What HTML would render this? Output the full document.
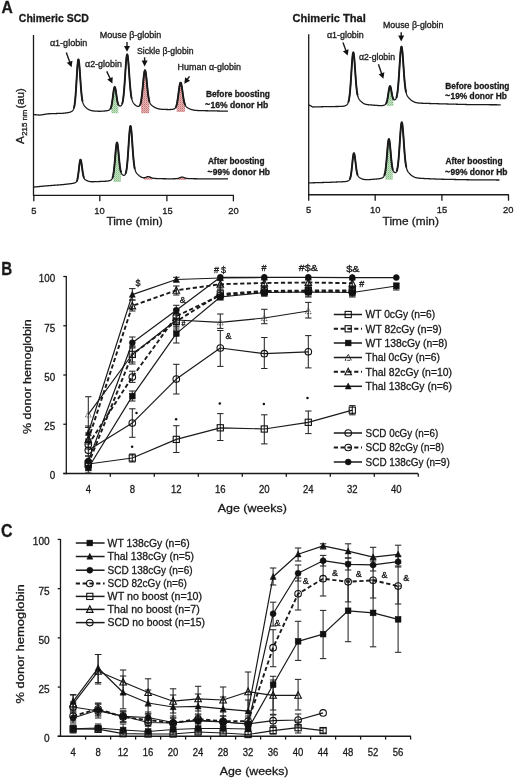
<!DOCTYPE html><html><head><meta charset="utf-8"><style>html,body{margin:0;padding:0;background:#fff;width:520px;height:780px;overflow:hidden}svg{display:block;will-change:transform}text{font-family:"Liberation Sans",sans-serif;fill:#1a1a1a;stroke:#1a1a1a;stroke-width:0.3px}</style></head><body><svg width="520" height="780" viewBox="0 0 520 780"><defs><pattern id="hg" width="2" height="2" patternUnits="userSpaceOnUse"><rect width="2" height="2" fill="#c8e2c8"/><rect width="1" height="1" fill="#7fba7f"/><rect x="1" y="1" width="1" height="1" fill="#a0cfa0"/></pattern><pattern id="hr" width="2" height="2" patternUnits="userSpaceOnUse"><rect width="2" height="2" fill="#e8b6b6"/><rect width="1" height="1" fill="#c27272"/><rect x="1" y="1" width="1" height="1" fill="#d69494"/></pattern></defs>
<text x="1.40" y="13.30" font-size="16.5" font-weight="bold" textLength="11.30" lengthAdjust="spacingAndGlyphs" >A</text>
<text x="18.80" y="22.40" font-size="10.9" font-weight="bold" textLength="70.00" lengthAdjust="spacingAndGlyphs" >Chimeric SCD</text>
<text x="292.50" y="22.40" font-size="10.9" font-weight="bold" textLength="73.30" lengthAdjust="spacingAndGlyphs" >Chimeric Thal</text>
<line x1="33.50" y1="35.00" x2="33.50" y2="195.90" stroke="#1a1a1a" stroke-width="1.3"/>
<line x1="33.00" y1="195.40" x2="233.90" y2="195.40" stroke="#1a1a1a" stroke-width="1.4"/>
<line x1="33.80" y1="195.40" x2="33.80" y2="201.30" stroke="#1a1a1a" stroke-width="1.3"/>
<line x1="99.80" y1="195.40" x2="99.80" y2="201.30" stroke="#1a1a1a" stroke-width="1.3"/>
<line x1="166.90" y1="195.40" x2="166.90" y2="201.30" stroke="#1a1a1a" stroke-width="1.3"/>
<line x1="233.40" y1="195.40" x2="233.40" y2="201.30" stroke="#1a1a1a" stroke-width="1.3"/>
<text x="33.90" y="213.60" font-size="9.4" text-anchor="middle" >5</text>
<text x="99.50" y="213.60" font-size="9.4" text-anchor="middle" >10</text>
<text x="167.40" y="213.60" font-size="9.4" text-anchor="middle" >15</text>
<text x="233.40" y="213.60" font-size="9.4" text-anchor="middle" >20</text>
<text x="106.40" y="225.10" font-size="11.2" textLength="56.30" lengthAdjust="spacingAndGlyphs" >Time (min)</text>
<line x1="308.70" y1="34.30" x2="308.70" y2="195.30" stroke="#1a1a1a" stroke-width="1.3"/>
<line x1="308.20" y1="194.80" x2="508.90" y2="194.80" stroke="#1a1a1a" stroke-width="1.4"/>
<line x1="308.70" y1="194.80" x2="308.70" y2="200.70" stroke="#1a1a1a" stroke-width="1.3"/>
<line x1="375.20" y1="194.80" x2="375.20" y2="200.70" stroke="#1a1a1a" stroke-width="1.3"/>
<line x1="441.90" y1="194.80" x2="441.90" y2="200.70" stroke="#1a1a1a" stroke-width="1.3"/>
<line x1="508.50" y1="194.80" x2="508.50" y2="200.70" stroke="#1a1a1a" stroke-width="1.3"/>
<text x="308.70" y="213.10" font-size="9.4" text-anchor="middle" >5</text>
<text x="375.20" y="213.10" font-size="9.4" text-anchor="middle" >10</text>
<text x="441.90" y="213.10" font-size="9.4" text-anchor="middle" >15</text>
<text x="508.30" y="213.10" font-size="9.4" text-anchor="middle" >20</text>
<text x="382.60" y="225.00" font-size="11.2" textLength="56.30" lengthAdjust="spacingAndGlyphs" >Time (min)</text>
<g transform="translate(24.2 144) rotate(-90)"><text x="0" y="0" font-size="11.8">A</text><text x="8.2" y="3.2" font-size="7.2" textLength="26.2" lengthAdjust="spacingAndGlyphs">215 nm</text><text x="35.5" y="0" font-size="11.5" textLength="20.4" lengthAdjust="spacingAndGlyphs">(au)</text></g>
<polygon points="111.13,106.94 111.38,106.01 111.63,104.89 111.88,103.58 112.13,102.06 112.38,100.37 112.63,98.53 112.88,96.59 113.13,94.62 113.38,92.71 113.63,90.94 113.88,89.40 114.13,88.18 114.38,87.35 114.63,86.96 114.88,87.03 115.13,87.56 115.38,88.50 115.63,89.79 115.88,91.35 116.13,93.07 116.38,94.86 116.63,96.63 116.88,98.31 117.13,99.84 117.38,101.19 117.63,102.35 117.88,103.30 118.13,104.06 118.38,104.66 118.24,113.28 111.43,113.28" fill="url(#hg)" stroke="none"/>
<polygon points="140.80,102.46 141.05,101.26 141.30,99.82 141.55,98.15 141.80,96.23 142.05,94.07 142.30,91.70 142.55,89.15 142.80,86.48 143.05,83.75 143.30,81.05 143.55,78.46 143.80,76.08 144.05,74.00 144.30,72.32 144.55,71.09 144.80,70.39 145.05,70.23 145.30,70.63 145.55,71.55 145.80,72.96 146.05,74.79 146.30,76.95 146.55,79.36 146.80,81.90 147.05,84.49 147.30,87.05 147.55,89.50 147.80,91.78 148.05,93.86 148.30,95.72 148.55,97.35 148.80,98.75 149.05,99.94 149.30,100.94 149.55,101.77 149.26,113.20 141.10,113.20" fill="url(#hr)" stroke="none"/>
<polygon points="176.40,105.56 176.65,104.68 176.90,103.64 177.15,102.43 177.40,101.05 177.65,99.51 177.90,97.82 178.15,96.01 178.40,94.11 178.65,92.18 178.90,90.27 179.15,88.44 179.40,86.76 179.65,85.29 179.90,84.10 180.15,83.24 180.40,82.74 180.65,82.63 180.90,82.92 181.15,83.57 181.40,84.57 181.65,85.86 181.90,87.39 182.15,89.09 182.40,90.89 182.65,92.72 182.90,94.53 183.15,96.26 183.40,97.88 183.65,99.35 183.90,100.67 184.15,101.83 184.40,102.82 184.65,103.67 184.90,104.38 185.15,104.98 184.86,112.02 176.70,112.02" fill="url(#hr)" stroke="none"/>
<polygon points="113.22,174.91 113.47,173.50 113.72,171.81 113.97,169.84 114.22,167.58 114.47,165.05 114.72,162.29 114.97,159.36 115.22,156.35 115.47,153.37 115.72,150.52 115.97,147.94 116.22,145.75 116.47,144.07 116.72,142.97 116.97,142.52 117.22,142.75 117.47,143.62 117.72,145.10 117.97,147.08 118.22,149.45 118.47,152.08 118.72,154.85 118.97,157.61 119.22,160.28 119.47,162.77 119.72,165.01 119.97,166.98 120.22,168.66 120.47,170.07 120.72,171.22 120.97,172.15 120.78,181.92 113.52,181.92" fill="url(#hg)" stroke="none"/>
<polygon points="143.90,177.78 144.15,177.76 144.40,177.74 144.65,177.69 144.90,177.64 145.15,177.57 145.40,177.49 145.65,177.40 145.90,177.30 146.15,177.19 146.40,177.08 146.65,176.98 146.90,176.88 147.15,176.80 147.40,176.72 147.65,176.67 147.90,176.63 148.15,176.61 148.40,176.62 148.65,176.65 148.90,176.69 149.15,176.76 149.40,176.84 149.65,176.93 149.90,177.04 150.15,177.15 150.40,177.27 150.65,177.39 150.90,177.50 151.15,177.62 151.40,177.72 151.65,177.82 151.90,177.92 152.15,178.00 152.40,178.07 152.65,178.14 152.40,179.86 144.20,179.86" fill="url(#hr)" stroke="none"/>
<polygon points="177.60,178.49 177.85,178.43 178.10,178.37 178.35,178.29 178.60,178.21 178.85,178.12 179.10,178.02 179.35,177.92 179.60,177.81 179.85,177.70 180.10,177.59 180.35,177.49 180.60,177.39 180.85,177.30 181.10,177.23 181.35,177.17 181.60,177.13 181.85,177.10 182.10,177.10 182.35,177.12 182.60,177.15 182.85,177.20 183.10,177.26 183.35,177.34 183.60,177.43 183.85,177.52 184.10,177.61 184.35,177.71 184.60,177.81 184.85,177.90 185.10,177.99 185.35,178.07 185.60,178.15 185.85,178.22 186.10,178.28 186.35,178.33 186.10,180.00 177.90,180.00" fill="url(#hr)" stroke="none"/>
<polyline points="33.50,114.60 33.75,114.62 34.00,114.64 34.25,114.66 34.50,114.68 34.75,114.70 35.00,114.72 35.25,114.73 35.50,114.75 35.75,114.77 36.00,114.79 36.25,114.81 36.50,114.83 36.75,114.85 37.00,114.87 37.25,114.89 37.50,114.91 37.75,114.93 38.00,114.95 38.25,114.97 38.50,114.98 38.75,115.00 39.00,115.02 39.25,115.04 39.50,115.06 39.75,115.08 40.00,115.10 40.25,115.06 40.50,115.02 40.75,114.98 41.00,114.94 41.25,114.90 41.50,114.86 41.75,114.82 42.00,114.77 42.25,114.73 42.50,114.69 42.75,114.65 43.00,114.61 43.25,114.57 43.50,114.53 43.75,114.49 44.00,114.45 44.25,114.41 44.50,114.37 44.75,114.33 45.00,114.29 45.25,114.25 45.50,114.21 45.75,114.17 46.00,114.12 46.25,114.08 46.50,114.04 46.75,114.00 47.00,113.96 47.25,113.92 47.50,113.88 47.75,113.84 48.00,113.80 48.25,113.79 48.50,113.78 48.75,113.77 49.00,113.77 49.25,113.76 49.50,113.75 49.75,113.74 50.00,113.73 50.25,113.72 50.50,113.72 50.75,113.71 51.00,113.70 51.25,113.69 51.50,113.68 51.75,113.67 52.00,113.67 52.25,113.66 52.50,113.65 52.75,113.64 53.00,113.63 53.25,113.62 53.50,113.62 53.75,113.61 54.00,113.60 54.25,113.59 54.50,113.58 54.75,113.57 55.00,113.57 55.25,113.56 55.50,113.55 55.75,113.54 56.00,113.53 56.25,113.52 56.50,113.52 56.75,113.51 57.00,113.50 57.25,113.49 57.50,113.48 57.75,113.47 58.00,113.47 58.25,113.46 58.50,113.45 58.75,113.44 59.00,113.43 59.25,113.42 59.50,113.42 59.75,113.41 60.00,113.40 60.25,113.39 60.50,113.38 60.75,113.37 61.00,113.37 61.25,113.36 61.50,113.35 61.75,113.34 62.00,113.33 62.25,113.32 62.50,113.32 62.75,113.31 63.00,113.30 63.25,113.27 63.50,113.24 63.75,113.21 64.00,113.18 64.25,113.15 64.50,113.11 64.75,113.08 65.00,113.05 65.25,113.02 65.50,112.99 65.75,112.96 66.00,112.92 66.25,112.89 66.50,112.86 66.75,112.82 67.00,112.79 67.25,112.75 67.50,112.71 67.75,112.67 68.00,112.63 68.25,112.58 68.50,112.53 68.75,112.48 69.00,112.42 69.25,112.36 69.50,112.30 69.75,112.23 70.00,112.15 70.25,112.06 70.50,111.97 70.75,111.87 71.00,111.76 71.25,111.63 71.50,111.49 71.75,111.33 72.00,111.16 72.25,110.97 72.50,110.74 72.75,110.47 73.00,110.14 73.25,109.72 73.50,109.20 73.75,108.53 74.00,107.69 74.25,106.62 74.50,105.28 74.75,103.62 75.00,101.59 75.25,99.16 75.50,96.30 75.75,93.03 76.00,89.38 76.25,85.41 76.50,81.22 76.75,76.96 77.00,72.78 77.25,68.88 77.50,65.45 77.75,62.65 78.00,60.65 78.25,59.56 78.50,59.44 78.75,60.20 79.00,61.79 79.25,64.12 79.50,67.04 79.75,70.41 80.00,74.06 80.25,77.83 80.50,81.55 80.75,85.12 81.00,88.43 81.25,91.41 81.50,94.03 81.75,96.29 82.00,98.20 82.25,99.78 82.50,101.08 82.75,102.14 83.00,103.00 83.25,103.71 83.50,104.30 83.75,104.79 84.00,105.22 84.25,105.59 84.50,105.93 84.75,106.25 85.00,106.54 85.25,106.82 85.50,107.09 85.75,107.34 86.00,107.59 86.25,107.82 86.50,108.04 86.75,108.26 87.00,108.46 87.25,108.65 87.50,108.83 87.75,109.00 88.00,109.16 88.25,109.31 88.50,109.45 88.75,109.58 89.00,109.70 89.25,109.81 89.50,109.91 89.75,110.00 90.00,110.09 90.25,110.19 90.50,110.28 90.75,110.36 91.00,110.44 91.25,110.51 91.50,110.58 91.75,110.64 92.00,110.69 92.25,110.74 92.50,110.79 92.75,110.83 93.00,110.87 93.25,110.91 93.50,110.94 93.75,110.97 94.00,110.99 94.25,111.02 94.50,111.04 94.75,111.06 95.00,111.08 95.25,111.10 95.50,111.11 95.75,111.13 96.00,111.14 96.25,111.16 96.50,111.17 96.75,111.18 97.00,111.19 97.25,111.20 97.50,111.21 97.75,111.22 98.00,111.23 98.25,111.24 98.50,111.25 98.75,111.26 99.00,111.27 99.25,111.27 99.50,111.28 99.75,111.29 100.00,111.30 100.25,111.28 100.50,111.27 100.75,111.25 101.00,111.24 101.25,111.22 101.50,111.21 101.75,111.19 102.00,111.18 102.25,111.16 102.50,111.15 102.75,111.13 103.00,111.11 103.25,111.10 103.50,111.08 103.75,111.06 104.00,111.04 104.25,111.02 104.50,111.00 104.75,110.98 105.00,110.96 105.25,110.94 105.50,110.91 105.75,110.88 106.00,110.85 106.25,110.82 106.50,110.78 106.75,110.74 107.00,110.70 107.25,110.65 107.50,110.60 107.75,110.54 108.00,110.48 108.25,110.40 108.50,110.32 108.75,110.23 109.00,110.11 109.25,109.98 109.50,109.81 109.75,109.60 110.00,109.34 110.25,109.01 110.50,108.58 110.75,108.03 111.00,107.36 111.25,106.52 111.50,105.50 111.75,104.29 112.00,102.88 112.25,101.27 112.50,99.50 112.75,97.61 113.00,95.64 113.25,93.69 113.50,91.83 113.75,90.16 114.00,88.77 114.25,87.73 114.50,87.11 114.75,86.94 115.00,87.23 115.25,87.96 115.50,89.08 115.75,90.51 116.00,92.16 116.25,93.93 116.50,95.72 116.75,97.45 117.00,99.07 117.25,100.52 117.50,101.77 117.75,102.83 118.00,103.69 118.25,104.37 118.50,104.90 118.75,105.29 119.00,105.58 119.25,105.79 119.50,105.92 119.75,106.00 120.00,106.03 120.25,106.02 120.50,105.97 120.75,105.88 121.00,105.72 121.25,105.50 121.50,105.18 121.75,104.76 122.00,104.21 122.25,103.49 122.50,102.57 122.75,101.42 123.00,100.01 123.25,98.30 123.50,96.26 123.75,93.89 124.00,91.17 124.25,88.12 124.50,84.76 124.75,81.16 125.00,77.38 125.25,73.52 125.50,69.69 125.75,66.03 126.00,62.66 126.25,59.73 126.50,57.34 126.75,55.60 127.00,54.60 127.25,54.37 127.50,54.93 127.75,56.23 128.00,58.22 128.25,60.80 128.50,63.85 128.75,67.24 129.00,70.83 129.25,74.49 129.50,78.09 129.75,81.54 130.00,84.76 130.25,87.70 130.50,90.31 130.75,92.60 131.00,94.57 131.25,96.24 131.50,97.64 131.75,98.81 132.00,99.77 132.25,100.56 132.50,101.23 132.75,101.79 133.00,102.26 133.25,102.68 133.50,103.04 133.75,103.37 134.00,103.68 134.25,103.96 134.50,104.22 134.75,104.47 135.00,104.71 135.25,104.94 135.50,105.15 135.75,105.36 136.00,105.55 136.25,105.72 136.50,105.88 136.75,106.03 137.00,106.15 137.25,106.26 137.50,106.35 137.75,106.41 138.00,106.45 138.25,106.47 138.50,106.44 138.75,106.38 139.00,106.26 139.25,106.08 139.50,105.82 139.75,105.47 140.00,105.00 140.25,104.39 140.50,103.63 140.75,102.67 141.00,101.52 141.25,100.13 141.50,98.50 141.75,96.63 142.00,94.52 142.25,92.19 142.50,89.67 142.75,87.02 143.00,84.30 143.25,81.58 143.50,78.96 143.75,76.53 144.00,74.39 144.25,72.62 144.50,71.30 144.75,70.48 145.00,70.22 145.25,70.50 145.50,71.33 145.75,72.64 146.00,74.40 146.25,76.50 146.50,78.86 146.75,81.39 147.00,83.98 147.25,86.54 147.50,89.02 147.75,91.34 148.00,93.47 148.25,95.37 148.50,97.04 148.75,98.49 149.00,99.72 149.25,100.75 149.50,101.61 149.75,102.33 150.00,102.93 150.25,103.42 150.50,103.84 150.75,104.20 151.00,104.51 151.25,104.79 151.50,105.05 151.75,105.28 152.00,105.50 152.25,105.71 152.50,105.91 152.75,106.10 153.00,106.29 153.25,106.47 153.50,106.64 153.75,106.80 154.00,106.96 154.25,107.11 154.50,107.26 154.75,107.40 155.00,107.53 155.25,107.66 155.50,107.79 155.75,107.91 156.00,108.02 156.25,108.12 156.50,108.22 156.75,108.32 157.00,108.41 157.25,108.49 157.50,108.56 157.75,108.64 158.00,108.70 158.25,108.76 158.50,108.82 158.75,108.88 159.00,108.93 159.25,108.97 159.50,109.01 159.75,109.05 160.00,109.09 160.25,109.12 160.50,109.15 160.75,109.18 161.00,109.21 161.25,109.23 161.50,109.26 161.75,109.28 162.00,109.30 162.25,109.31 162.50,109.33 162.75,109.35 163.00,109.36 163.25,109.37 163.50,109.39 163.75,109.40 164.00,109.41 164.25,109.42 164.50,109.43 164.75,109.44 165.00,109.45 165.25,109.46 165.50,109.47 165.75,109.47 166.00,109.48 166.25,109.49 166.50,109.49 166.75,109.50 167.00,109.51 167.25,109.51 167.50,109.52 167.75,109.52 168.00,109.53 168.25,109.53 168.50,109.53 168.75,109.53 169.00,109.53 169.25,109.53 169.50,109.53 169.75,109.52 170.00,109.52 170.25,109.51 170.50,109.51 170.75,109.50 171.00,109.49 171.25,109.47 171.50,109.45 171.75,109.43 172.00,109.41 172.25,109.38 172.50,109.34 172.75,109.30 173.00,109.25 173.25,109.19 173.50,109.13 173.75,109.05 174.00,108.95 174.25,108.83 174.50,108.69 174.75,108.51 175.00,108.28 175.25,108.00 175.50,107.65 175.75,107.21 176.00,106.67 176.25,106.02 176.50,105.22 176.75,104.28 177.00,103.17 177.25,101.90 177.50,100.45 177.75,98.85 178.00,97.11 178.25,95.26 178.50,93.34 178.75,91.41 179.00,89.52 179.25,87.75 179.50,86.14 179.75,84.78 180.00,83.72 180.25,83.00 180.50,82.65 180.75,82.70 181.00,83.13 181.25,83.93 181.50,85.05 181.75,86.45 182.00,88.05 182.25,89.80 182.50,91.62 182.75,93.45 183.00,95.23 183.25,96.92 183.50,98.49 183.75,99.90 184.00,101.15 184.25,102.24 184.50,103.18 184.75,103.97 185.00,104.63 185.25,105.18 185.50,105.64 185.75,106.03 186.00,106.36 186.25,106.63 186.50,106.88 186.75,107.09 187.00,107.29 187.25,107.47 187.50,107.64 187.75,107.80 188.00,107.95 188.25,108.10 188.50,108.24 188.75,108.38 189.00,108.51 189.25,108.64 189.50,108.76 189.75,108.88 190.00,108.99 190.25,109.10 190.50,109.20 190.75,109.29 191.00,109.38 191.25,109.47 191.50,109.55 191.75,109.63 192.00,109.70 192.25,109.77 192.50,109.83 192.75,109.89 193.00,109.95 193.25,110.00 193.50,110.05 193.75,110.10 194.00,110.14 194.25,110.18 194.50,110.21 194.75,110.25 195.00,110.28 195.25,110.31 195.50,110.34 195.75,110.36 196.00,110.38 196.25,110.41 196.50,110.42 196.75,110.44 197.00,110.46 197.25,110.48 197.50,110.49 197.75,110.50 198.00,110.52 198.25,110.53 198.50,110.54 198.75,110.55 199.00,110.56 199.25,110.57 199.50,110.58 199.75,110.59 200.00,110.59 200.25,110.60 200.50,110.61 200.75,110.62 201.00,110.62 201.25,110.63 201.50,110.64 201.75,110.64 202.00,110.65 202.25,110.65 202.50,110.66 202.75,110.67 203.00,110.67 203.25,110.68 203.50,110.68 203.75,110.69 204.00,110.69 204.25,110.70 204.50,110.70 204.75,110.71 205.00,110.72 205.25,110.72 205.50,110.73 205.75,110.73 206.00,110.74 206.25,110.74 206.50,110.75 206.75,110.75 207.00,110.76 207.25,110.76 207.50,110.77 207.75,110.77 208.00,110.78 208.25,110.78 208.50,110.79 208.75,110.79 209.00,110.80 209.25,110.81 209.50,110.81 209.75,110.82 210.00,110.82 210.25,110.83 210.50,110.83 210.75,110.84 211.00,110.84 211.25,110.85 211.50,110.85 211.75,110.86 212.00,110.86 212.25,110.87 212.50,110.87 212.75,110.88 213.00,110.88 213.25,110.89 213.50,110.89 213.75,110.90 214.00,110.91 214.25,110.91 214.50,110.92 214.75,110.92 215.00,110.93 215.25,110.93 215.50,110.94 215.75,110.94 216.00,110.95 216.25,110.95 216.50,110.96 216.75,110.96 217.00,110.97 217.25,110.97 217.50,110.98 217.75,110.98 218.00,110.99 218.25,110.99 218.50,111.00 218.75,111.01 219.00,111.01 219.25,111.02 219.50,111.02 219.75,111.03 220.00,111.03 220.25,111.04 220.50,111.04 220.75,111.05 221.00,111.05 221.25,111.06 221.50,111.06 221.75,111.07 222.00,111.07 222.25,111.08 222.50,111.08 222.75,111.09 223.00,111.09 223.25,111.10 223.50,111.11 223.75,111.11 224.00,111.12 224.25,111.12 224.50,111.13 224.75,111.13 225.00,111.14 225.25,111.14 225.50,111.15 225.75,111.15 226.00,111.16 226.25,111.16 226.50,111.17 226.75,111.17 227.00,111.18 227.25,111.18 227.50,111.19 227.75,111.19 228.00,111.20" fill="none" stroke="#1a1a1a" stroke-width="1.3" stroke-linejoin="round"/>
<polyline points="73.85,108.22 74.10,107.29 74.35,106.12 74.60,104.66 74.85,102.85 75.10,100.66 75.35,98.07 75.60,95.04 75.85,91.61 76.10,87.82 76.35,83.75 76.60,79.52 76.85,75.27 77.10,71.18 77.35,67.44 77.60,64.24 77.85,61.75 78.10,60.10 78.35,59.40 78.60,59.64 78.85,60.75 79.10,62.64 79.35,65.22 79.60,68.35 79.85,71.85 80.10,75.56 80.35,79.33 80.60,83.01 80.85,86.48 81.10,89.66 81.35,92.50 81.60,94.98 81.85,97.09 82.10,98.87 82.35,100.33 82.60,101.53" fill="none" stroke="#1a1a1a" stroke-width="1.9" stroke-linejoin="round"/>
<polyline points="110.28,108.96 110.53,108.52 110.78,107.96 111.03,107.26 111.28,106.41 111.53,105.37 111.78,104.13 112.03,102.69 112.28,101.07 112.53,99.28 112.78,97.37 113.03,95.41 113.28,93.46 113.53,91.62 113.78,89.98 114.03,88.62 114.28,87.63 114.53,87.06 114.78,86.95 115.03,87.30 115.28,88.08 115.53,89.24 115.78,90.70 116.03,92.37 116.28,94.14 116.53,95.93 116.78,97.66 117.03,99.25 117.28,100.68 117.53,101.91 117.78,102.94 118.03,103.78 118.28,104.44 118.53,104.95" fill="none" stroke="#1a1a1a" stroke-width="1.9" stroke-linejoin="round"/>
<polyline points="122.00,104.21 122.25,103.49 122.50,102.57 122.75,101.42 123.00,100.01 123.25,98.30 123.50,96.26 123.75,93.89 124.00,91.17 124.25,88.12 124.50,84.76 124.75,81.16 125.00,77.38 125.25,73.52 125.50,69.69 125.75,66.03 126.00,62.66 126.25,59.73 126.50,57.34 126.75,55.60 127.00,54.60 127.25,54.37 127.50,54.93 127.75,56.23 128.00,58.22 128.25,60.80 128.50,63.85 128.75,67.24 129.00,70.83 129.25,74.49 129.50,78.09 129.75,81.54 130.00,84.76 130.25,87.70 130.50,90.31 130.75,92.60 131.00,94.57 131.25,96.24 131.50,97.64 131.75,98.81" fill="none" stroke="#1a1a1a" stroke-width="1.9" stroke-linejoin="round"/>
<polyline points="139.80,105.38 140.05,104.89 140.30,104.25 140.55,103.45 140.80,102.46 141.05,101.26 141.30,99.82 141.55,98.15 141.80,96.23 142.05,94.07 142.30,91.70 142.55,89.15 142.80,86.48 143.05,83.75 143.30,81.05 143.55,78.46 143.80,76.08 144.05,74.00 144.30,72.32 144.55,71.09 144.80,70.39 145.05,70.23 145.30,70.63 145.55,71.55 145.80,72.96 146.05,74.79 146.30,76.95 146.55,79.36 146.80,81.90 147.05,84.49 147.30,87.05 147.55,89.50 147.80,91.78 148.05,93.86 148.30,95.72 148.55,97.35 148.80,98.75 149.05,99.94 149.30,100.94 149.55,101.77" fill="none" stroke="#1a1a1a" stroke-width="1.9" stroke-linejoin="round"/>
<polyline points="175.40,107.80 175.65,107.40 175.90,106.90 176.15,106.30 176.40,105.56 176.65,104.68 176.90,103.64 177.15,102.43 177.40,101.05 177.65,99.51 177.90,97.82 178.15,96.01 178.40,94.11 178.65,92.18 178.90,90.27 179.15,88.44 179.40,86.76 179.65,85.29 179.90,84.10 180.15,83.24 180.40,82.74 180.65,82.63 180.90,82.92 181.15,83.57 181.40,84.57 181.65,85.86 181.90,87.39 182.15,89.09 182.40,90.89 182.65,92.72 182.90,94.53 183.15,96.26 183.40,97.88 183.65,99.35 183.90,100.67 184.15,101.83 184.40,102.82 184.65,103.67 184.90,104.38 185.15,104.98" fill="none" stroke="#1a1a1a" stroke-width="1.9" stroke-linejoin="round"/>
<polyline points="33.50,187.10 33.75,187.08 34.00,187.05 34.25,187.03 34.50,187.00 34.75,186.98 35.00,186.96 35.25,186.93 35.50,186.91 35.75,186.88 36.00,186.86 36.25,186.84 36.50,186.81 36.75,186.79 37.00,186.76 37.25,186.74 37.50,186.72 37.75,186.69 38.00,186.67 38.25,186.64 38.50,186.62 38.75,186.60 39.00,186.57 39.25,186.55 39.50,186.52 39.75,186.50 40.00,186.48 40.25,186.45 40.50,186.43 40.75,186.40 41.00,186.38 41.25,186.36 41.50,186.33 41.75,186.31 42.00,186.28 42.25,186.26 42.50,186.24 42.75,186.21 43.00,186.19 43.25,186.16 43.50,186.14 43.75,186.12 44.00,186.09 44.25,186.07 44.50,186.04 44.75,186.02 45.00,186.00 45.25,185.97 45.50,185.95 45.75,185.92 46.00,185.90 46.25,185.88 46.50,185.86 46.75,185.84 47.00,185.82 47.25,185.80 47.50,185.79 47.75,185.77 48.00,185.75 48.25,185.73 48.50,185.71 48.75,185.69 49.00,185.67 49.25,185.65 49.50,185.63 49.75,185.61 50.00,185.59 50.25,185.57 50.50,185.56 50.75,185.54 51.00,185.52 51.25,185.50 51.50,185.48 51.75,185.46 52.00,185.44 52.25,185.42 52.50,185.40 52.75,185.38 53.00,185.36 53.25,185.35 53.50,185.33 53.75,185.31 54.00,185.29 54.25,185.27 54.50,185.25 54.75,185.23 55.00,185.21 55.25,185.19 55.50,185.17 55.75,185.15 56.00,185.14 56.25,185.12 56.50,185.10 56.75,185.08 57.00,185.06 57.25,185.04 57.50,185.02 57.75,185.00 58.00,184.98 58.25,184.96 58.50,184.94 58.75,184.92 59.00,184.91 59.25,184.89 59.50,184.87 59.75,184.85 60.00,184.83 60.25,184.81 60.50,184.79 60.75,184.77 61.00,184.75 61.25,184.73 61.50,184.71 61.75,184.70 62.00,184.68 62.25,184.66 62.50,184.64 62.75,184.62 63.00,184.60 63.25,184.57 63.50,184.54 63.75,184.51 64.00,184.48 64.25,184.45 64.50,184.42 64.75,184.39 65.00,184.36 65.25,184.33 65.50,184.30 65.75,184.27 66.00,184.25 66.25,184.22 66.50,184.19 66.75,184.16 67.00,184.13 67.25,184.10 67.50,184.07 67.75,184.04 68.00,184.01 68.25,183.98 68.50,183.95 68.75,183.92 69.00,183.89 69.25,183.86 69.50,183.83 69.75,183.80 70.00,183.77 70.25,183.74 70.50,183.70 70.75,183.67 71.00,183.64 71.25,183.60 71.50,183.57 71.75,183.53 72.00,183.49 72.25,183.45 72.50,183.41 72.75,183.37 73.00,183.32 73.25,183.26 73.50,183.21 73.75,183.14 74.00,183.08 74.25,183.01 74.50,182.94 74.75,182.86 75.00,182.77 75.25,182.66 75.50,182.53 75.75,182.37 76.00,182.16 76.25,181.90 76.50,181.56 76.75,181.11 77.00,180.52 77.25,179.77 77.50,178.80 77.75,177.60 78.00,176.15 78.25,174.45 78.50,172.52 78.75,170.41 79.00,168.21 79.25,166.02 79.50,163.97 79.75,162.19 80.00,160.80 80.25,159.92 80.50,159.60 80.75,159.85 81.00,160.60 81.25,161.79 81.50,163.34 81.75,165.13 82.00,167.04 82.25,168.97 82.50,170.82 82.75,172.51 83.00,174.01 83.25,175.29 83.50,176.35 83.75,177.21 84.00,177.89 84.25,178.42 84.50,178.84 84.75,179.18 85.00,179.44 85.25,179.66 85.50,179.85 85.75,180.01 86.00,180.16 86.25,180.30 86.50,180.43 86.75,180.56 87.00,180.67 87.25,180.78 87.50,180.89 87.75,180.98 88.00,181.08 88.25,181.16 88.50,181.24 88.75,181.31 89.00,181.38 89.25,181.44 89.50,181.49 89.75,181.54 90.00,181.58 90.25,181.62 90.50,181.65 90.75,181.68 91.00,181.70 91.25,181.72 91.50,181.73 91.75,181.74 92.00,181.75 92.25,181.76 92.50,181.76 92.75,181.76 93.00,181.75 93.25,181.75 93.50,181.74 93.75,181.73 94.00,181.72 94.25,181.71 94.50,181.70 94.75,181.69 95.00,181.67 95.25,181.67 95.50,181.66 95.75,181.65 96.00,181.65 96.25,181.64 96.50,181.63 96.75,181.62 97.00,181.61 97.25,181.60 97.50,181.59 97.75,181.58 98.00,181.57 98.25,181.56 98.50,181.55 98.75,181.54 99.00,181.53 99.25,181.52 99.50,181.51 99.75,181.50 100.00,181.49 100.25,181.48 100.50,181.47 100.75,181.46 101.00,181.45 101.25,181.44 101.50,181.43 101.75,181.42 102.00,181.41 102.25,181.40 102.50,181.39 102.75,181.38 103.00,181.37 103.25,181.36 103.50,181.35 103.75,181.34 104.00,181.32 104.25,181.31 104.50,181.30 104.75,181.29 105.00,181.27 105.25,181.26 105.50,181.24 105.75,181.23 106.00,181.21 106.25,181.19 106.50,181.17 106.75,181.15 107.00,181.13 107.25,181.10 107.50,181.07 107.75,181.04 108.00,181.00 108.25,180.96 108.50,180.91 108.75,180.86 109.00,180.80 109.25,180.74 109.50,180.66 109.75,180.58 110.00,180.49 110.25,180.39 110.50,180.27 110.75,180.13 111.00,179.96 111.25,179.76 111.50,179.52 111.75,179.22 112.00,178.84 112.25,178.34 112.50,177.71 112.75,176.92 113.00,175.95 113.25,174.76 113.50,173.31 113.75,171.59 114.00,169.59 114.25,167.29 114.50,164.73 114.75,161.95 115.00,159.01 115.25,155.99 115.50,153.02 115.75,150.19 116.00,147.66 116.25,145.52 116.50,143.90 116.75,142.88 117.00,142.51 117.25,142.82 117.50,143.77 117.75,145.31 118.00,147.35 118.25,149.76 118.50,152.41 118.75,155.18 119.00,157.94 119.25,160.59 119.50,163.05 119.75,165.26 120.00,167.19 120.25,168.85 120.50,170.22 120.75,171.35 121.00,172.25 121.25,172.97 121.50,173.53 121.75,173.98 122.00,174.32 122.25,174.59 122.50,174.80 122.75,174.97 123.00,175.10 123.25,175.20 123.50,175.26 123.75,175.29 124.00,175.29 124.25,175.24 124.50,175.14 124.75,174.96 125.00,174.70 125.25,174.35 125.50,173.85 125.75,173.19 126.00,172.33 126.25,171.22 126.50,169.83 126.75,168.12 127.00,166.06 127.25,163.64 127.50,160.84 127.75,157.70 128.00,154.24 128.25,150.53 128.50,146.67 128.75,142.76 129.00,138.95 129.25,135.38 129.50,132.20 129.75,129.56 130.00,127.57 130.25,126.35 130.50,125.94 130.75,126.37 131.00,127.61 131.25,129.60 131.50,132.22 131.75,135.34 132.00,138.82 132.25,142.49 132.50,146.21 132.75,149.84 133.00,153.28 133.25,156.45 133.50,159.29 133.75,161.79 134.00,163.94 134.25,165.75 134.50,167.26 134.75,168.51 135.00,169.53 135.25,170.37 135.50,171.06 135.75,171.63 136.00,172.12 136.25,172.54 136.50,172.92 136.75,173.26 137.00,173.57 137.25,173.86 137.50,174.14 137.75,174.40 138.00,174.66 138.25,174.90 138.50,175.13 138.75,175.35 139.00,175.57 139.25,175.77 139.50,175.96 139.75,176.14 140.00,176.31 140.25,176.48 140.50,176.65 140.75,176.80 141.00,176.95 141.25,177.08 141.50,177.20 141.75,177.31 142.00,177.41 142.25,177.50 142.50,177.58 142.75,177.65 143.00,177.70 143.25,177.74 143.50,177.76 143.75,177.78 144.00,177.77 144.25,177.75 144.50,177.72 144.75,177.67 145.00,177.61 145.25,177.54 145.50,177.45 145.75,177.36 146.00,177.25 146.25,177.15 146.50,177.04 146.75,176.94 147.00,176.85 147.25,176.76 147.50,176.70 147.75,176.65 148.00,176.62 148.25,176.61 148.50,176.63 148.75,176.66 149.00,176.72 149.25,176.79 149.50,176.87 149.75,176.97 150.00,177.08 150.25,177.20 150.50,177.32 150.75,177.43 151.00,177.55 151.25,177.66 151.50,177.77 151.75,177.86 152.00,177.95 152.25,178.03 152.50,178.10 152.75,178.16 153.00,178.22 153.25,178.26 153.50,178.30 153.75,178.34 154.00,178.37 154.25,178.39 154.50,178.42 154.75,178.44 155.00,178.45 155.25,178.47 155.50,178.48 155.75,178.50 156.00,178.51 156.25,178.52 156.50,178.53 156.75,178.54 157.00,178.55 157.25,178.56 157.50,178.57 157.75,178.58 158.00,178.59 158.25,178.60 158.50,178.61 158.75,178.62 159.00,178.63 159.25,178.64 159.50,178.64 159.75,178.65 160.00,178.66 160.25,178.67 160.50,178.67 160.75,178.68 161.00,178.69 161.25,178.69 161.50,178.70 161.75,178.71 162.00,178.71 162.25,178.72 162.50,178.72 162.75,178.73 163.00,178.73 163.25,178.74 163.50,178.74 163.75,178.74 164.00,178.75 164.25,178.75 164.50,178.76 164.75,178.76 165.00,178.76 165.25,178.77 165.50,178.77 165.75,178.77 166.00,178.77 166.25,178.78 166.50,178.78 166.75,178.78 167.00,178.79 167.25,178.79 167.50,178.79 167.75,178.79 168.00,178.79 168.25,178.79 168.50,178.79 168.75,178.79 169.00,178.79 169.25,178.79 169.50,178.79 169.75,178.79 170.00,178.79 170.25,178.79 170.50,178.79 170.75,178.79 171.00,178.79 171.25,178.79 171.50,178.79 171.75,178.79 172.00,178.79 172.25,178.78 172.50,178.78 172.75,178.78 173.00,178.78 173.25,178.78 173.50,178.77 173.75,178.77 174.00,178.77 174.25,178.76 174.50,178.76 174.75,178.75 175.00,178.74 175.25,178.73 175.50,178.72 175.75,178.71 176.00,178.70 176.25,178.68 176.50,178.65 176.75,178.63 177.00,178.60 177.25,178.56 177.50,178.51 177.75,178.46 178.00,178.39 178.25,178.32 178.50,178.24 178.75,178.16 179.00,178.06 179.25,177.96 179.50,177.85 179.75,177.74 180.00,177.63 180.25,177.53 180.50,177.43 180.75,177.33 181.00,177.25 181.25,177.19 181.50,177.14 181.75,177.11 182.00,177.10 182.25,177.11 182.50,177.14 182.75,177.18 183.00,177.24 183.25,177.31 183.50,177.39 183.75,177.48 184.00,177.58 184.25,177.67 184.50,177.77 184.75,177.87 185.00,177.96 185.25,178.04 185.50,178.12 185.75,178.19 186.00,178.26 186.25,178.31 186.50,178.36 186.75,178.41 187.00,178.44 187.25,178.47 187.50,178.50 187.75,178.52 188.00,178.54 188.25,178.56 188.50,178.57 188.75,178.59 189.00,178.60 189.25,178.61 189.50,178.62 189.75,178.63 190.00,178.64 190.25,178.64 190.50,178.65 190.75,178.66 191.00,178.67 191.25,178.67 191.50,178.68 191.75,178.69 192.00,178.69 192.25,178.70 192.50,178.70 192.75,178.71 193.00,178.72 193.25,178.72 193.50,178.73 193.75,178.73 194.00,178.73 194.25,178.74 194.50,178.74 194.75,178.75 195.00,178.75 195.25,178.75 195.50,178.76 195.75,178.76 196.00,178.76 196.25,178.77 196.50,178.77 196.75,178.77 197.00,178.77 197.25,178.78 197.50,178.78 197.75,178.78 198.00,178.78 198.25,178.78 198.50,178.79 198.75,178.79 199.00,178.79 199.25,178.79 199.50,178.79 199.75,178.79 200.00,178.79 200.25,178.79 200.50,178.79 200.75,178.79 201.00,178.79 201.25,178.80 201.50,178.80 201.75,178.80 202.00,178.80 202.25,178.80 202.50,178.80 202.75,178.80 203.00,178.80 203.25,178.80 203.50,178.80 203.75,178.80 204.00,178.80 204.25,178.80 204.50,178.80 204.75,178.80 205.00,178.80 205.25,178.80 205.50,178.80 205.75,178.80 206.00,178.80 206.25,178.80 206.50,178.80 206.75,178.80 207.00,178.80 207.25,178.80 207.50,178.80 207.75,178.80 208.00,178.80 208.25,178.80 208.50,178.80 208.75,178.80 209.00,178.80 209.25,178.80 209.50,178.80 209.75,178.80 210.00,178.80 210.25,178.80 210.50,178.80 210.75,178.80 211.00,178.80 211.25,178.80 211.50,178.80 211.75,178.80 212.00,178.80 212.25,178.80 212.50,178.80 212.75,178.80 213.00,178.80 213.25,178.80 213.50,178.80 213.75,178.80 214.00,178.80 214.25,178.80 214.50,178.80 214.75,178.80 215.00,178.80 215.25,178.80 215.50,178.80 215.75,178.80 216.00,178.80 216.25,178.80 216.50,178.80 216.75,178.80 217.00,178.80 217.25,178.80 217.50,178.80 217.75,178.80 218.00,178.80 218.25,178.80 218.50,178.80 218.75,178.80 219.00,178.80 219.25,178.80 219.50,178.80 219.75,178.80 220.00,178.80 220.25,178.80 220.50,178.80 220.75,178.80 221.00,178.80 221.25,178.80 221.50,178.80 221.75,178.80 222.00,178.80 222.25,178.80 222.50,178.80 222.75,178.80 223.00,178.80 223.25,178.80 223.50,178.80 223.75,178.80 224.00,178.80 224.25,178.80 224.50,178.80 224.75,178.80 225.00,178.80 225.25,178.80 225.50,178.80 225.75,178.80 226.00,178.80 226.25,178.80 226.50,178.80 226.75,178.80 227.00,178.80 227.25,178.80 227.50,178.80 227.75,178.80 228.00,178.80" fill="none" stroke="#1a1a1a" stroke-width="1.3" stroke-linejoin="round"/>
<polyline points="76.60,181.39 76.85,180.89 77.10,180.24 77.35,179.41 77.60,178.35 77.85,177.05 78.10,175.50 78.35,173.70 78.60,171.69 78.85,169.53 79.10,167.32 79.35,165.17 79.60,163.21 79.85,161.58 80.10,160.39 80.35,159.72 80.60,159.64 80.85,160.09 81.10,161.03 81.35,162.38 81.60,164.03 81.85,165.89 82.10,167.82 82.35,169.72 82.60,171.52 82.85,173.14 83.10,174.55 83.35,175.74 83.60,176.72 83.85,177.50 84.10,178.12" fill="none" stroke="#1a1a1a" stroke-width="1.9" stroke-linejoin="round"/>
<polyline points="112.32,178.17 112.57,177.51 112.82,176.67 113.07,175.64 113.32,174.38 113.57,172.86 113.82,171.06 114.07,168.97 114.32,166.60 114.57,163.97 114.82,161.14 115.07,158.16 115.32,155.15 115.57,152.20 115.82,149.45 116.07,147.01 116.32,145.01 116.57,143.55 116.82,142.71 117.07,142.53 117.32,143.02 117.57,144.15 117.82,145.84 118.07,147.99 118.32,150.48 118.57,153.18 118.82,155.96 119.07,158.70 119.32,161.30 119.57,163.70 119.82,165.83 120.07,167.69 120.32,169.26 120.57,170.56 120.82,171.62 121.07,172.47" fill="none" stroke="#1a1a1a" stroke-width="1.9" stroke-linejoin="round"/>
<polyline points="125.56,173.71 125.81,173.01 126.06,172.08 126.31,170.91 126.56,169.45 126.81,167.66 127.06,165.51 127.31,163.00 127.56,160.12 127.81,156.90 128.06,153.37 128.31,149.62 128.56,145.73 128.81,141.84 129.06,138.07 129.31,134.58 129.56,131.52 129.81,129.02 130.06,127.21 130.31,126.17 130.56,125.97 130.81,126.60 131.06,128.03 131.31,130.17 131.56,132.93 131.81,136.15 132.06,139.69 132.31,143.38 132.56,147.09 132.81,150.69 133.06,154.07 133.31,157.16 133.56,159.92 133.81,162.34 134.06,164.40 134.31,166.14 134.56,167.58 134.81,168.77" fill="none" stroke="#1a1a1a" stroke-width="1.9" stroke-linejoin="round"/>
<polygon points="386.64,102.20 386.89,101.39 387.14,100.41 387.39,99.26 387.64,97.93 387.89,96.45 388.14,94.85 388.39,93.18 388.64,91.52 388.89,89.94 389.14,88.54 389.39,87.39 389.64,86.57 389.89,86.12 390.14,86.08 390.39,86.45 390.64,87.19 390.89,88.24 391.14,89.52 391.39,90.93 391.64,92.39 391.89,93.80 392.14,95.11 392.39,96.28 392.64,97.26 392.89,98.07 393.14,98.70 393.39,99.17 393.30,105.94 386.94,105.94" fill="url(#hg)" stroke="none"/>
<polygon points="385.12,172.31 385.37,170.86 385.62,169.14 385.87,167.11 386.12,164.79 386.37,162.19 386.62,159.36 386.87,156.35 387.12,153.25 387.37,150.18 387.62,147.25 387.87,144.60 388.12,142.35 388.37,140.63 388.62,139.51 388.87,139.06 389.12,139.30 389.37,140.22 389.62,141.76 389.87,143.82 390.12,146.29 390.37,149.02 390.62,151.89 390.87,154.76 391.12,157.52 391.37,160.10 391.62,162.42 391.87,164.46 392.12,166.20 392.37,167.65 392.62,168.84 392.87,169.80 392.68,179.78 385.42,179.78" fill="url(#hg)" stroke="none"/>
<polyline points="308.70,104.80 308.95,104.94 309.20,105.08 309.45,105.21 309.70,105.35 309.95,105.49 310.20,105.62 310.45,105.76 310.70,105.90 310.95,106.04 311.20,106.17 311.45,106.31 311.70,106.45 311.95,106.59 312.20,106.72 312.45,106.86 312.70,107.00 312.95,106.99 313.20,106.99 313.45,106.98 313.70,106.97 313.95,106.97 314.20,106.96 314.45,106.95 314.70,106.95 314.95,106.94 315.20,106.93 315.45,106.93 315.70,106.92 315.95,106.91 316.20,106.91 316.45,106.90 316.70,106.89 316.95,106.89 317.20,106.88 317.45,106.87 317.70,106.87 317.95,106.86 318.20,106.85 318.45,106.85 318.70,106.84 318.95,106.83 319.20,106.83 319.45,106.82 319.70,106.81 319.95,106.81 320.20,106.80 320.45,106.79 320.70,106.79 320.95,106.78 321.20,106.77 321.45,106.77 321.70,106.76 321.95,106.75 322.20,106.75 322.45,106.74 322.70,106.73 322.95,106.73 323.20,106.72 323.45,106.71 323.70,106.71 323.95,106.70 324.20,106.70 324.45,106.69 324.70,106.69 324.95,106.69 325.20,106.68 325.45,106.68 325.70,106.67 325.95,106.67 326.20,106.67 326.45,106.66 326.70,106.66 326.95,106.65 327.20,106.65 327.45,106.65 327.70,106.64 327.95,106.64 328.20,106.64 328.45,106.63 328.70,106.63 328.95,106.62 329.20,106.62 329.45,106.62 329.70,106.61 329.95,106.61 330.20,106.60 330.45,106.60 330.70,106.60 330.95,106.59 331.20,106.59 331.45,106.59 331.70,106.58 331.95,106.58 332.20,106.57 332.45,106.57 332.70,106.57 332.95,106.56 333.20,106.56 333.45,106.55 333.70,106.55 333.95,106.55 334.20,106.54 334.45,106.54 334.70,106.54 334.95,106.53 335.20,106.53 335.45,106.52 335.70,106.52 335.95,106.52 336.20,106.51 336.45,106.51 336.70,106.50 336.95,106.50 337.20,106.50 337.45,106.49 337.70,106.49 337.95,106.48 338.20,106.48 338.45,106.48 338.70,106.47 338.95,106.47 339.20,106.46 339.45,106.46 339.70,106.45 339.95,106.44 340.20,106.44 340.45,106.43 340.70,106.42 340.95,106.41 341.20,106.40 341.45,106.39 341.70,106.38 341.95,106.36 342.20,106.35 342.45,106.33 342.70,106.30 342.95,106.28 343.20,106.25 343.45,106.22 343.70,106.17 343.95,106.11 344.20,106.05 344.45,105.98 344.70,105.91 344.95,105.83 345.20,105.73 345.45,105.63 345.70,105.52 345.95,105.39 346.20,105.25 346.45,105.08 346.70,104.90 346.95,104.67 347.20,104.41 347.45,104.09 347.70,103.70 347.95,103.22 348.20,102.62 348.45,101.87 348.70,100.93 348.95,99.78 349.20,98.36 349.45,96.65 349.70,94.60 349.95,92.20 350.20,89.44 350.45,86.32 350.70,82.86 350.95,79.14 351.20,75.22 351.45,71.22 351.70,67.27 351.95,63.50 352.20,60.07 352.45,57.13 352.70,54.81 352.95,53.22 353.20,52.44 353.45,52.51 353.70,53.41 353.95,55.10 354.20,57.47 354.45,60.42 354.70,63.78 354.95,67.40 355.20,71.13 355.45,74.83 355.70,78.37 355.95,81.67 356.20,84.66 356.45,87.31 356.70,89.61 356.95,91.56 357.20,93.20 357.45,94.55 357.70,95.66 357.95,96.57 358.20,97.32 358.45,97.94 358.70,98.46 358.95,98.91 359.20,99.30 359.45,99.66 359.70,99.98 359.95,100.28 360.20,100.57 360.45,100.84 360.70,101.10 360.95,101.35 361.20,101.59 361.45,101.81 361.70,102.03 361.95,102.24 362.20,102.45 362.45,102.64 362.70,102.83 362.95,103.00 363.20,103.17 363.45,103.32 363.70,103.46 363.95,103.60 364.20,103.72 364.45,103.84 364.70,103.95 364.95,104.05 365.20,104.14 365.45,104.22 365.70,104.30 365.95,104.36 366.20,104.43 366.45,104.48 366.70,104.53 366.95,104.58 367.20,104.62 367.45,104.65 367.70,104.68 367.95,104.71 368.20,104.73 368.45,104.75 368.70,104.77 368.95,104.78 369.20,104.79 369.45,104.80 369.70,104.81 369.95,104.81 370.20,104.84 370.45,104.86 370.70,104.89 370.95,104.92 371.20,104.95 371.45,104.97 371.70,105.00 371.95,105.02 372.20,105.04 372.45,105.06 372.70,105.09 372.95,105.11 373.20,105.13 373.45,105.15 373.70,105.17 373.95,105.19 374.20,105.21 374.45,105.23 374.70,105.25 374.95,105.27 375.20,105.29 375.45,105.31 375.70,105.33 375.95,105.34 376.20,105.36 376.45,105.38 376.70,105.40 376.95,105.42 377.20,105.44 377.45,105.46 377.70,105.48 377.95,105.49 378.20,105.51 378.45,105.53 378.70,105.55 378.95,105.57 379.20,105.58 379.45,105.60 379.70,105.62 379.95,105.63 380.20,105.65 380.45,105.66 380.70,105.68 380.95,105.69 381.20,105.70 381.45,105.71 381.70,105.71 381.95,105.72 382.20,105.68 382.45,105.62 382.70,105.56 382.95,105.49 383.20,105.43 383.45,105.35 383.70,105.27 383.95,105.19 384.20,105.09 384.45,104.98 384.70,104.86 384.95,104.72 385.20,104.54 385.45,104.33 385.70,104.06 385.95,103.71 386.20,103.27 386.45,102.72 386.70,102.02 386.95,101.17 387.20,100.15 387.45,98.96 387.70,97.59 387.95,96.07 388.20,94.45 388.45,92.78 388.70,91.13 388.95,89.59 389.20,88.24 389.45,87.16 389.70,86.42 389.95,86.07 390.20,86.14 390.45,86.60 390.70,87.42 390.95,88.53 391.20,89.85 391.45,91.28 391.70,92.73 391.95,94.13 392.20,95.41 392.45,96.53 392.70,97.47 392.95,98.24 393.20,98.83 393.45,99.26 393.70,99.57 393.95,99.76 394.20,99.86 394.45,99.88 394.70,99.84 394.95,99.73 395.20,99.59 395.45,99.38 395.70,99.08 395.95,98.69 396.20,98.16 396.45,97.48 396.70,96.61 396.95,95.52 397.20,94.17 397.45,92.53 397.70,90.57 397.95,88.27 398.20,85.61 398.45,82.60 398.70,79.27 398.95,75.65 399.20,71.83 399.45,67.88 399.70,63.91 399.95,60.07 400.20,56.47 400.45,53.25 400.70,50.56 400.95,48.49 401.20,47.15 401.45,46.59 401.70,46.84 401.95,47.87 402.20,49.64 402.45,52.06 402.70,55.02 402.95,58.37 403.20,61.99 403.45,65.74 403.70,69.47 403.95,73.09 404.20,76.50 404.45,79.64 404.70,82.46 404.95,84.95 405.20,87.10 405.45,88.94 405.70,90.48 405.95,91.77 406.20,92.84 406.45,93.73 406.70,94.46 406.95,95.08 407.20,95.61 407.45,96.06 407.70,96.47 407.95,96.83 408.20,97.17 408.45,97.48 408.70,97.78 408.95,98.06 409.20,98.33 409.45,98.59 409.70,98.84 409.95,99.08 410.20,99.31 410.45,99.53 410.70,99.74 410.95,99.94 411.20,100.15 411.45,100.36 411.70,100.55 411.95,100.74 412.20,100.91 412.45,101.08 412.70,101.24 412.95,101.38 413.20,101.52 413.45,101.65 413.70,101.78 413.95,101.89 414.20,102.00 414.45,102.10 414.70,102.19 414.95,102.28 415.20,102.36 415.45,102.43 415.70,102.50 415.95,102.57 416.20,102.62 416.45,102.68 416.70,102.73 416.95,102.78 417.20,102.82 417.45,102.86 417.70,102.90 417.95,102.93 418.20,102.97 418.45,103.00 418.70,103.02 418.95,103.05 419.20,103.07 419.45,103.10 419.70,103.12 419.95,103.14 420.20,103.15 420.45,103.17 420.70,103.18 420.95,103.20 421.20,103.21 421.45,103.22 421.70,103.23 421.95,103.24 422.20,103.25 422.45,103.26 422.70,103.27 422.95,103.28 423.20,103.29 423.45,103.30 423.70,103.31 423.95,103.31 424.20,103.32 424.45,103.33 424.70,103.34 424.95,103.35 425.20,103.35 425.45,103.36 425.70,103.37 425.95,103.38 426.20,103.39 426.45,103.39 426.70,103.40 426.95,103.41 427.20,103.42 427.45,103.42 427.70,103.43 427.95,103.44 428.20,103.45 428.45,103.45 428.70,103.46 428.95,103.47 429.20,103.48 429.45,103.48 429.70,103.49 429.95,103.50 430.20,103.51 430.45,103.51 430.70,103.52 430.95,103.53 431.20,103.54 431.45,103.54 431.70,103.55 431.95,103.56 432.20,103.57 432.45,103.57 432.70,103.58 432.95,103.59 433.20,103.60 433.45,103.60 433.70,103.61 433.95,103.62 434.20,103.63 434.45,103.63 434.70,103.64 434.95,103.65 435.20,103.66 435.45,103.66 435.70,103.67 435.95,103.68 436.20,103.69 436.45,103.69 436.70,103.70 436.95,103.71 437.20,103.72 437.45,103.72 437.70,103.73 437.95,103.74 438.20,103.75 438.45,103.75 438.70,103.76 438.95,103.77 439.20,103.78 439.45,103.78 439.70,103.79 439.95,103.80 440.20,103.81 440.45,103.81 440.70,103.82 440.95,103.83 441.20,103.83 441.45,103.84 441.70,103.85 441.95,103.85 442.20,103.86 442.45,103.87 442.70,103.87 442.95,103.88 443.20,103.89 443.45,103.89 443.70,103.90 443.95,103.91 444.20,103.91 444.45,103.92 444.70,103.93 444.95,103.93 445.20,103.94 445.45,103.95 445.70,103.95 445.95,103.96 446.20,103.97 446.45,103.97 446.70,103.98 446.95,103.99 447.20,103.99 447.45,104.00 447.70,104.01 447.95,104.01 448.20,104.02 448.45,104.03 448.70,104.03 448.95,104.04 449.20,104.05 449.45,104.05 449.70,104.06 449.95,104.07 450.20,104.07 450.45,104.08 450.70,104.09 450.95,104.09 451.20,104.10 451.45,104.11 451.70,104.11 451.95,104.12 452.20,104.13 452.45,104.13 452.70,104.14 452.95,104.15 453.20,104.15 453.45,104.16 453.70,104.17 453.95,104.17 454.20,104.18 454.45,104.19 454.70,104.19 454.95,104.20 455.20,104.21 455.45,104.21 455.70,104.22 455.95,104.23 456.20,104.23 456.45,104.24 456.70,104.25 456.95,104.25 457.20,104.26 457.45,104.27 457.70,104.27 457.95,104.28 458.20,104.29 458.45,104.29 458.70,104.30 458.95,104.31 459.20,104.31 459.45,104.32 459.70,104.33 459.95,104.33 460.20,104.34 460.45,104.35 460.70,104.35 460.95,104.36 461.20,104.37 461.45,104.37 461.70,104.38 461.95,104.39 462.20,104.39 462.45,104.40 462.70,104.41 462.95,104.41 463.20,104.42 463.45,104.43 463.70,104.43 463.95,104.44 464.20,104.45 464.45,104.45 464.70,104.46 464.95,104.47 465.20,104.47 465.45,104.48 465.70,104.49 465.95,104.49 466.20,104.50 466.45,104.51 466.70,104.51 466.95,104.52 467.20,104.53 467.45,104.53 467.70,104.54 467.95,104.55 468.20,104.55 468.45,104.56 468.70,104.57 468.95,104.57 469.20,104.58 469.45,104.59 469.70,104.59 469.95,104.60 470.20,104.60 470.45,104.60 470.70,104.60 470.95,104.61 471.20,104.61 471.45,104.61 471.70,104.61 471.95,104.61 472.20,104.61 472.45,104.62 472.70,104.62 472.95,104.62 473.20,104.62 473.45,104.62 473.70,104.62 473.95,104.63 474.20,104.63 474.45,104.63 474.70,104.63 474.95,104.63 475.20,104.63 475.45,104.64 475.70,104.64 475.95,104.64 476.20,104.64 476.45,104.64 476.70,104.64 476.95,104.65 477.20,104.65 477.45,104.65 477.70,104.65 477.95,104.65 478.20,104.65 478.45,104.65 478.70,104.66 478.95,104.66 479.20,104.66 479.45,104.66 479.70,104.66 479.95,104.66 480.20,104.67 480.45,104.67 480.70,104.67 480.95,104.67 481.20,104.67 481.45,104.67 481.70,104.68 481.95,104.68 482.20,104.68 482.45,104.68 482.70,104.68 482.95,104.68 483.20,104.69 483.45,104.69 483.70,104.69 483.95,104.69 484.20,104.69 484.45,104.69 484.70,104.70 484.95,104.70 485.20,104.70 485.45,104.70 485.70,104.70 485.95,104.70 486.20,104.71 486.45,104.71 486.70,104.71 486.95,104.71 487.20,104.71 487.45,104.71 487.70,104.71 487.95,104.72 488.20,104.72 488.45,104.72 488.70,104.72 488.95,104.72 489.20,104.72 489.45,104.73 489.70,104.73 489.95,104.73 490.20,104.73 490.45,104.73 490.70,104.73 490.95,104.74 491.20,104.74 491.45,104.74 491.70,104.74 491.95,104.74 492.20,104.74 492.45,104.75 492.70,104.75 492.95,104.75 493.20,104.75 493.45,104.75 493.70,104.75 493.95,104.76 494.20,104.76 494.45,104.76 494.70,104.76 494.95,104.76 495.20,104.76 495.45,104.77 495.70,104.77 495.95,104.77 496.20,104.77 496.45,104.77 496.70,104.77 496.95,104.77 497.20,104.78 497.45,104.78 497.70,104.78 497.95,104.78 498.20,104.78 498.45,104.78 498.70,104.79 498.95,104.79 499.20,104.79 499.45,104.79 499.70,104.79 499.95,104.79 500.20,104.80 500.45,104.80 500.70,104.80" fill="none" stroke="#1a1a1a" stroke-width="1.3" stroke-linejoin="round"/>
<polyline points="348.36,102.15 348.61,101.29 348.86,100.22 349.11,98.90 349.36,97.30 349.61,95.38 349.86,93.11 350.11,90.48 350.36,87.48 350.61,84.14 350.86,80.51 351.11,76.65 351.36,72.67 351.61,68.68 351.86,64.83 352.11,61.26 352.36,58.12 352.61,55.56 352.86,53.70 353.11,52.62 353.36,52.38 353.61,52.99 353.86,54.40 354.11,56.54 354.36,59.30 354.61,62.53 354.86,66.07 355.11,69.78 355.36,73.51 355.61,77.12 355.86,80.52 356.11,83.62 356.36,86.40 356.61,88.82 356.86,90.90 357.11,92.64 357.36,94.09 357.61,95.29" fill="none" stroke="#1a1a1a" stroke-width="1.9" stroke-linejoin="round"/>
<polyline points="385.84,103.87 386.09,103.48 386.34,102.98 386.59,102.35 386.84,101.57 387.09,100.62 387.34,99.51 387.59,98.21 387.84,96.76 388.09,95.18 388.34,93.52 388.59,91.85 388.84,90.25 389.09,88.80 389.34,87.60 389.59,86.70 389.84,86.18 390.09,86.06 390.34,86.35 390.59,87.02 390.84,88.01 391.09,89.25 391.34,90.64 391.59,92.10 391.84,93.52 392.09,94.86 392.34,96.06 392.59,97.08 392.84,97.92 393.09,98.59 393.34,99.09 393.59,99.45" fill="none" stroke="#1a1a1a" stroke-width="1.9" stroke-linejoin="round"/>
<polyline points="396.30,97.91 396.55,97.16 396.80,96.20 397.05,95.02 397.30,93.56 397.55,91.79 397.80,89.69 398.05,87.25 398.30,84.45 398.55,81.30 398.80,77.85 399.05,74.14 399.30,70.25 399.55,66.29 399.80,62.35 400.05,58.59 400.30,55.13 400.55,52.10 400.80,49.65 401.05,47.86 401.30,46.83 401.55,46.59 401.80,47.16 402.05,48.50 402.30,50.54 402.55,53.19 402.80,56.32 403.05,59.80 403.30,63.48 403.55,67.24 403.80,70.94 404.05,74.49 404.30,77.79 404.55,80.81 404.80,83.50 405.05,85.85 405.30,87.87 405.55,89.59 405.80,91.03 406.05,92.22" fill="none" stroke="#1a1a1a" stroke-width="1.9" stroke-linejoin="round"/>
<polyline points="308.70,182.90 308.95,182.89 309.20,182.89 309.45,182.88 309.70,182.87 309.95,182.86 310.20,182.86 310.45,182.85 310.70,182.84 310.95,182.84 311.20,182.83 311.45,182.82 311.70,182.82 311.95,182.81 312.20,182.80 312.45,182.79 312.70,182.79 312.95,182.78 313.20,182.77 313.45,182.77 313.70,182.76 313.95,182.75 314.20,182.75 314.45,182.74 314.70,182.73 314.95,182.72 315.20,182.72 315.45,182.71 315.70,182.70 315.95,182.70 316.20,182.69 316.45,182.68 316.70,182.67 316.95,182.67 317.20,182.66 317.45,182.65 317.70,182.65 317.95,182.64 318.20,182.63 318.45,182.63 318.70,182.62 318.95,182.61 319.20,182.60 319.45,182.60 319.70,182.59 319.95,182.58 320.20,182.58 320.45,182.57 320.70,182.56 320.95,182.55 321.20,182.55 321.45,182.54 321.70,182.53 321.95,182.53 322.20,182.52 322.45,182.51 322.70,182.51 322.95,182.50 323.20,182.49 323.45,182.48 323.70,182.48 323.95,182.47 324.20,182.46 324.45,182.46 324.70,182.45 324.95,182.44 325.20,182.44 325.45,182.43 325.70,182.42 325.95,182.41 326.20,182.41 326.45,182.40 326.70,182.39 326.95,182.39 327.20,182.38 327.45,182.37 327.70,182.36 327.95,182.36 328.20,182.35 328.45,182.34 328.70,182.34 328.95,182.33 329.20,182.32 329.45,182.32 329.70,182.31 329.95,182.30 330.20,182.29 330.45,182.28 330.70,182.27 330.95,182.26 331.20,182.25 331.45,182.24 331.70,182.22 331.95,182.21 332.20,182.20 332.45,182.19 332.70,182.18 332.95,182.17 333.20,182.16 333.45,182.15 333.70,182.14 333.95,182.12 334.20,182.11 334.45,182.10 334.70,182.09 334.95,182.08 335.20,182.07 335.45,182.06 335.70,182.05 335.95,182.04 336.20,182.02 336.45,182.01 336.70,182.00 336.95,181.99 337.20,181.98 337.45,181.97 337.70,181.96 337.95,181.95 338.20,181.94 338.45,181.92 338.70,181.91 338.95,181.90 339.20,181.89 339.45,181.88 339.70,181.87 339.95,181.86 340.20,181.85 340.45,181.84 340.70,181.82 340.95,181.81 341.20,181.80 341.45,181.79 341.70,181.78 341.95,181.77 342.20,181.75 342.45,181.74 342.70,181.73 342.95,181.72 343.20,181.70 343.45,181.69 343.70,181.67 343.95,181.66 344.20,181.64 344.45,181.62 344.70,181.60 344.95,181.58 345.20,181.56 345.45,181.53 345.70,181.50 345.95,181.46 346.20,181.43 346.45,181.38 346.70,181.34 346.95,181.28 347.20,181.22 347.45,181.15 347.70,181.07 347.95,180.98 348.20,180.87 348.45,180.73 348.70,180.57 348.95,180.36 349.20,180.11 349.45,179.79 349.70,179.37 349.95,178.83 350.20,178.14 350.45,177.27 350.70,176.18 350.95,174.84 351.20,173.23 351.45,171.36 351.70,169.24 351.95,166.92 352.20,164.47 352.45,161.98 352.70,159.59 352.95,157.40 353.20,155.57 353.45,154.19 353.70,153.37 353.95,153.16 354.20,153.52 354.45,154.41 354.70,155.77 354.95,157.49 355.20,159.48 355.45,161.62 355.70,163.79 355.95,165.90 356.20,167.87 356.45,169.64 356.70,171.19 356.95,172.51 357.20,173.60 357.45,174.50 357.70,175.21 357.95,175.78 358.20,176.23 358.45,176.59 358.70,176.89 358.95,177.13 359.20,177.35 359.45,177.53 359.70,177.70 359.95,177.86 360.20,178.01 360.45,178.15 360.70,178.28 360.95,178.41 361.20,178.52 361.45,178.64 361.70,178.74 361.95,178.84 362.20,178.94 362.45,179.03 362.70,179.11 362.95,179.18 363.20,179.25 363.45,179.32 363.70,179.37 363.95,179.42 364.20,179.47 364.45,179.51 364.70,179.54 364.95,179.57 365.20,179.60 365.45,179.62 365.70,179.63 365.95,179.65 366.20,179.66 366.45,179.66 366.70,179.67 366.95,179.67 367.20,179.66 367.45,179.66 367.70,179.65 367.95,179.65 368.20,179.64 368.45,179.63 368.70,179.62 368.95,179.60 369.20,179.59 369.45,179.57 369.70,179.56 369.95,179.54 370.20,179.53 370.45,179.51 370.70,179.49 370.95,179.47 371.20,179.46 371.45,179.44 371.70,179.42 371.95,179.40 372.20,179.38 372.45,179.36 372.70,179.34 372.95,179.32 373.20,179.30 373.45,179.28 373.70,179.26 373.95,179.24 374.20,179.22 374.45,179.20 374.70,179.18 374.95,179.16 375.20,179.14 375.45,179.12 375.70,179.10 375.95,179.08 376.20,179.06 376.45,179.03 376.70,179.01 376.95,178.99 377.20,178.96 377.45,178.94 377.70,178.91 377.95,178.89 378.20,178.86 378.45,178.83 378.70,178.79 378.95,178.76 379.20,178.72 379.45,178.68 379.70,178.63 379.95,178.59 380.20,178.53 380.45,178.47 380.70,178.41 380.95,178.34 381.20,178.26 381.45,178.18 381.70,178.08 381.95,177.98 382.20,177.86 382.45,177.73 382.70,177.58 382.95,177.41 383.20,177.19 383.45,176.93 383.70,176.60 383.95,176.18 384.20,175.66 384.45,175.00 384.70,174.17 384.95,173.14 385.20,171.87 385.45,170.34 385.70,168.52 385.95,166.40 386.20,163.99 386.45,161.31 386.70,158.41 386.95,155.36 387.20,152.26 387.45,149.22 387.70,146.37 387.95,143.83 388.20,141.74 388.45,140.20 388.70,139.29 388.95,139.06 389.20,139.53 389.45,140.65 389.70,142.37 389.95,144.57 390.20,147.14 390.45,149.93 390.70,152.81 390.95,155.66 391.20,158.37 391.45,160.87 391.70,163.10 391.95,165.05 392.20,166.69 392.45,168.06 392.70,169.17 392.95,170.06 393.20,170.75 393.45,171.30 393.70,171.72 393.95,172.04 394.20,172.28 394.45,172.45 394.70,172.58 394.95,172.65 395.20,172.68 395.45,172.65 395.70,172.56 395.95,172.39 396.20,172.11 396.45,171.72 396.70,171.18 396.95,170.45 397.20,169.51 397.45,168.33 397.70,166.86 397.95,165.07 398.20,162.95 398.45,160.48 398.70,157.66 398.95,154.51 399.20,151.08 399.45,147.41 399.70,143.61 399.95,139.77 400.20,136.01 400.45,132.46 400.70,129.26 400.95,126.55 401.20,124.43 401.45,123.00 401.70,122.33 401.95,122.44 402.20,123.34 402.45,124.96 402.70,127.24 402.95,130.06 403.20,133.31 403.45,136.84 403.70,140.52 403.95,144.22 404.20,147.81 404.45,151.22 404.70,154.37 404.95,157.22 405.20,159.74 405.45,161.93 405.70,163.81 405.95,165.39 406.20,166.72 406.45,167.82 406.70,168.73 406.95,169.49 407.20,170.13 407.45,170.68 407.70,171.15 407.95,171.57 408.20,171.94 408.45,172.29 408.70,172.61 408.95,172.91 409.20,173.20 409.45,173.48 409.70,173.75 409.95,174.01 410.20,174.26 410.45,174.49 410.70,174.72 410.95,174.94 411.20,175.15 411.45,175.36 411.70,175.55 411.95,175.73 412.20,175.91 412.45,176.08 412.70,176.25 412.95,176.41 413.20,176.55 413.45,176.69 413.70,176.82 413.95,176.94 414.20,177.05 414.45,177.16 414.70,177.26 414.95,177.35 415.20,177.44 415.45,177.52 415.70,177.59 415.95,177.66 416.20,177.72 416.45,177.78 416.70,177.84 416.95,177.89 417.20,177.93 417.45,177.98 417.70,178.02 417.95,178.05 418.20,178.09 418.45,178.12 418.70,178.15 418.95,178.18 419.20,178.20 419.45,178.23 419.70,178.25 419.95,178.27 420.20,178.29 420.45,178.31 420.70,178.33 420.95,178.34 421.20,178.36 421.45,178.38 421.70,178.39 421.95,178.41 422.20,178.42 422.45,178.43 422.70,178.45 422.95,178.46 423.20,178.47 423.45,178.48 423.70,178.49 423.95,178.51 424.20,178.52 424.45,178.53 424.70,178.54 424.95,178.55 425.20,178.56 425.45,178.57 425.70,178.59 425.95,178.60 426.20,178.61 426.45,178.62 426.70,178.63 426.95,178.64 427.20,178.65 427.45,178.66 427.70,178.67 427.95,178.68 428.20,178.69 428.45,178.70 428.70,178.72 428.95,178.73 429.20,178.74 429.45,178.75 429.70,178.76 429.95,178.77 430.20,178.78 430.45,178.79 430.70,178.80 430.95,178.81 431.20,178.82 431.45,178.83 431.70,178.84 431.95,178.85 432.20,178.87 432.45,178.88 432.70,178.89 432.95,178.90 433.20,178.91 433.45,178.92 433.70,178.93 433.95,178.94 434.20,178.95 434.45,178.96 434.70,178.97 434.95,178.98 435.20,178.99 435.45,179.00 435.70,179.02 435.95,179.03 436.20,179.04 436.45,179.05 436.70,179.06 436.95,179.07 437.20,179.08 437.45,179.09 437.70,179.10 437.95,179.11 438.20,179.12 438.45,179.13 438.70,179.14 438.95,179.15 439.20,179.17 439.45,179.18 439.70,179.19 439.95,179.20 440.20,179.20 440.45,179.21 440.70,179.21 440.95,179.22 441.20,179.22 441.45,179.23 441.70,179.23 441.95,179.24 442.20,179.24 442.45,179.25 442.70,179.25 442.95,179.26 443.20,179.26 443.45,179.27 443.70,179.27 443.95,179.28 444.20,179.28 444.45,179.29 444.70,179.29 444.95,179.30 445.20,179.30 445.45,179.31 445.70,179.31 445.95,179.32 446.20,179.32 446.45,179.33 446.70,179.33 446.95,179.34 447.20,179.34 447.45,179.35 447.70,179.35 447.95,179.36 448.20,179.36 448.45,179.37 448.70,179.37 448.95,179.38 449.20,179.38 449.45,179.39 449.70,179.39 449.95,179.40 450.20,179.40 450.45,179.41 450.70,179.41 450.95,179.42 451.20,179.42 451.45,179.43 451.70,179.43 451.95,179.44 452.20,179.44 452.45,179.45 452.70,179.45 452.95,179.46 453.20,179.46 453.45,179.47 453.70,179.47 453.95,179.48 454.20,179.48 454.45,179.49 454.70,179.49 454.95,179.50 455.20,179.50 455.45,179.51 455.70,179.51 455.95,179.52 456.20,179.52 456.45,179.53 456.70,179.53 456.95,179.54 457.20,179.54 457.45,179.55 457.70,179.55 457.95,179.56 458.20,179.56 458.45,179.57 458.70,179.57 458.95,179.58 459.20,179.58 459.45,179.59 459.70,179.59 459.95,179.60 460.20,179.60 460.45,179.61 460.70,179.61 460.95,179.62 461.20,179.62 461.45,179.63 461.70,179.63 461.95,179.64 462.20,179.64 462.45,179.65 462.70,179.65 462.95,179.66 463.20,179.66 463.45,179.67 463.70,179.67 463.95,179.68 464.20,179.68 464.45,179.69 464.70,179.69 464.95,179.70 465.20,179.70 465.45,179.71 465.70,179.71 465.95,179.72 466.20,179.72 466.45,179.73 466.70,179.73 466.95,179.74 467.20,179.74 467.45,179.75 467.70,179.75 467.95,179.76 468.20,179.76 468.45,179.77 468.70,179.77 468.95,179.78 469.20,179.78 469.45,179.79 469.70,179.79 469.95,179.80 470.20,179.80 470.45,179.80 470.70,179.80 470.95,179.81 471.20,179.81 471.45,179.81 471.70,179.81 471.95,179.81 472.20,179.81 472.45,179.82 472.70,179.82 472.95,179.82 473.20,179.82 473.45,179.82 473.70,179.83 473.95,179.83 474.20,179.83 474.45,179.83 474.70,179.83 474.95,179.83 475.20,179.84 475.45,179.84 475.70,179.84 475.95,179.84 476.20,179.84 476.45,179.84 476.70,179.85 476.95,179.85 477.20,179.85 477.45,179.85 477.70,179.85 477.95,179.85 478.20,179.86 478.45,179.86 478.70,179.86 478.95,179.86 479.20,179.86 479.45,179.86 479.70,179.87 479.95,179.87 480.20,179.87 480.45,179.87 480.70,179.87 480.95,179.87 481.20,179.88 481.45,179.88 481.70,179.88 481.95,179.88 482.20,179.88 482.45,179.88 482.70,179.89 482.95,179.89 483.20,179.89 483.45,179.89 483.70,179.89 483.95,179.89 484.20,179.90 484.45,179.90 484.70,179.90 484.95,179.90 485.20,179.90 485.45,179.90 485.70,179.91 485.95,179.91 486.20,179.91 486.45,179.91 486.70,179.91 486.95,179.91 487.20,179.92 487.45,179.92 487.70,179.92 487.95,179.92 488.20,179.92 488.45,179.92 488.70,179.93 488.95,179.93 489.20,179.93 489.45,179.93 489.70,179.93 489.95,179.93 490.20,179.94 490.45,179.94 490.70,179.94 490.95,179.94 491.20,179.94 491.45,179.94 491.70,179.95 491.95,179.95 492.20,179.95 492.45,179.95 492.70,179.95 492.95,179.96 493.20,179.96 493.45,179.96 493.70,179.96 493.95,179.96 494.20,179.96 494.45,179.97 494.70,179.97 494.95,179.97 495.20,179.97 495.45,179.97 495.70,179.97 495.95,179.98 496.20,179.98 496.45,179.98 496.70,179.98 496.95,179.98 497.20,179.98 497.45,179.99 497.70,179.99 497.95,179.99 498.20,179.99 498.45,179.99 498.70,179.99 498.95,180.00 499.20,180.00 499.45,180.00" fill="none" stroke="#1a1a1a" stroke-width="1.3" stroke-linejoin="round"/>
<polyline points="349.74,179.29 349.99,178.73 350.24,178.02 350.49,177.11 350.74,175.98 350.99,174.60 351.24,172.95 351.49,171.04 351.74,168.88 351.99,166.53 352.24,164.07 352.49,161.59 352.74,159.22 352.99,157.08 353.24,155.31 353.49,154.02 353.74,153.30 353.99,153.18 354.24,153.63 354.49,154.60 354.74,156.02 354.99,157.80 355.24,159.82 355.49,161.97 355.74,164.13 355.99,166.23 356.24,168.17 356.49,169.91 356.74,171.42 356.99,172.70 357.24,173.76 357.49,174.62 357.74,175.31" fill="none" stroke="#1a1a1a" stroke-width="1.9" stroke-linejoin="round"/>
<polyline points="384.22,175.61 384.47,174.94 384.72,174.10 384.97,173.05 385.22,171.76 385.47,170.21 385.72,168.36 385.97,166.22 386.22,163.79 386.47,161.09 386.72,158.17 386.97,155.11 387.22,152.01 387.47,148.98 387.72,146.15 387.97,143.65 388.22,141.59 388.47,140.10 388.72,139.24 388.97,139.07 389.22,139.59 389.47,140.77 389.72,142.53 389.97,144.77 390.22,147.36 390.47,150.16 390.72,153.04 390.97,155.88 391.22,158.58 391.47,161.06 391.72,163.27 391.97,165.19 392.22,166.81 392.47,168.16 392.72,169.25 392.97,170.12" fill="none" stroke="#1a1a1a" stroke-width="1.9" stroke-linejoin="round"/>
<polyline points="396.60,171.41 396.85,170.77 397.10,169.92 397.35,168.83 397.60,167.48 397.85,165.83 398.10,163.84 398.35,161.51 398.60,158.83 398.85,155.81 399.10,152.48 399.35,148.90 399.60,145.14 399.85,141.30 400.10,137.49 400.35,133.84 400.60,130.49 400.85,127.57 401.10,125.20 401.35,123.48 401.60,122.50 401.85,122.30 402.10,122.89 402.35,124.23 402.60,126.26 402.85,128.88 403.10,131.97 403.35,135.41 403.60,139.04 403.85,142.74 404.10,146.39 404.35,149.89 404.60,153.15 404.85,156.12 405.10,158.77 405.35,161.09 405.60,163.09 405.85,164.79 406.10,166.21 406.35,167.40" fill="none" stroke="#1a1a1a" stroke-width="1.9" stroke-linejoin="round"/>
<text x="49.90" y="46.30" font-size="8.4" textLength="37.30" lengthAdjust="spacingAndGlyphs" >α1-globin</text>
<line x1="66.30" y1="52.40" x2="69.81" y2="62.21" stroke="#1a1a1a" stroke-width="1.4"/>
<polygon points="71.60,67.20 66.82,62.75 72.47,60.73" fill="#111"/>
<text x="85.00" y="67.40" font-size="8.4" textLength="36.90" lengthAdjust="spacingAndGlyphs" >α2-globin</text>
<line x1="106.80" y1="71.40" x2="110.17" y2="78.69" stroke="#1a1a1a" stroke-width="1.4"/>
<polygon points="112.40,83.50 107.24,79.50 112.69,76.98" fill="#111"/>
<text x="99.70" y="37.70" font-size="8.4" textLength="61.70" lengthAdjust="spacingAndGlyphs" >Mouse β-globin</text>
<line x1="127.00" y1="42.00" x2="127.00" y2="46.50" stroke="#1a1a1a" stroke-width="1.4"/>
<polygon points="127.00,51.80 124.00,46.00 130.00,46.00" fill="#111"/>
<text x="137.00" y="53.70" font-size="8.4" textLength="56.50" lengthAdjust="spacingAndGlyphs" >Sickle β-globin</text>
<line x1="144.60" y1="57.30" x2="144.60" y2="61.10" stroke="#1a1a1a" stroke-width="1.4"/>
<polygon points="144.60,66.40 141.60,60.60 147.60,60.60" fill="#111"/>
<text x="177.60" y="69.90" font-size="8.4" textLength="63.40" lengthAdjust="spacingAndGlyphs" >Human α-globin</text>
<line x1="189.50" y1="76.30" x2="187.32" y2="79.44" stroke="#1a1a1a" stroke-width="1.4"/>
<polygon points="184.30,83.80 185.14,77.32 190.07,80.74" fill="#111"/>
<text x="205.90" y="97.00" font-size="8.5" font-weight="bold" textLength="64.00" lengthAdjust="spacingAndGlyphs" >Before boosting</text>
<path d="M205.50,104.60 C206.30,103.10 207.30,103.70 207.60,104.10 S209.10,104.90 209.70,103.50" fill="none" stroke="#1a1a1a" stroke-width="1.25"/>
<text x="210.50" y="107.60" font-size="8.5" font-weight="bold" textLength="57.80" lengthAdjust="spacingAndGlyphs" >16% donor Hb</text>
<text x="207.90" y="164.30" font-size="8.5" font-weight="bold" textLength="56.60" lengthAdjust="spacingAndGlyphs" >After boosting</text>
<path d="M207.80,172.00 C208.60,170.50 209.60,171.10 209.90,171.50 S211.40,172.30 212.00,170.90" fill="none" stroke="#1a1a1a" stroke-width="1.25"/>
<text x="212.80" y="175.00" font-size="8.5" font-weight="bold" textLength="57.20" lengthAdjust="spacingAndGlyphs" >99% donor Hb</text>
<text x="326.90" y="38.40" font-size="8.4" textLength="36.90" lengthAdjust="spacingAndGlyphs" >α1-globin</text>
<line x1="343.00" y1="42.40" x2="345.92" y2="50.61" stroke="#1a1a1a" stroke-width="1.4"/>
<polygon points="347.70,55.60 342.93,51.14 348.58,49.13" fill="#111"/>
<text x="359.00" y="60.10" font-size="8.4" textLength="36.00" lengthAdjust="spacingAndGlyphs" >α2-globin</text>
<line x1="378.40" y1="64.20" x2="381.68" y2="73.79" stroke="#1a1a1a" stroke-width="1.4"/>
<polygon points="383.40,78.80 378.68,74.28 384.36,72.34" fill="#111"/>
<text x="383.00" y="28.30" font-size="8.4" textLength="60.40" lengthAdjust="spacingAndGlyphs" >Mouse β-globin</text>
<line x1="401.20" y1="32.30" x2="401.20" y2="36.10" stroke="#1a1a1a" stroke-width="1.4"/>
<polygon points="401.20,41.40 398.20,35.60 404.20,35.60" fill="#111"/>
<text x="445.20" y="89.00" font-size="8.5" font-weight="bold" textLength="64.30" lengthAdjust="spacingAndGlyphs" >Before boosting</text>
<path d="M445.50,95.80 C446.30,94.30 447.30,94.90 447.60,95.30 S449.10,96.10 449.70,94.70" fill="none" stroke="#1a1a1a" stroke-width="1.25"/>
<text x="450.50" y="98.80" font-size="8.5" font-weight="bold" textLength="56.40" lengthAdjust="spacingAndGlyphs" >19% donor Hb</text>
<text x="445.50" y="164.40" font-size="8.5" font-weight="bold" textLength="57.00" lengthAdjust="spacingAndGlyphs" >After boosting</text>
<path d="M445.50,172.20 C446.30,170.70 447.30,171.30 447.60,171.70 S449.10,172.50 449.70,171.10" fill="none" stroke="#1a1a1a" stroke-width="1.25"/>
<text x="450.50" y="175.20" font-size="8.5" font-weight="bold" textLength="57.00" lengthAdjust="spacingAndGlyphs" >99% donor Hb</text>
<text x="1.20" y="275.30" font-size="17.8" font-weight="bold" textLength="10.90" lengthAdjust="spacingAndGlyphs" >B</text>
<line x1="66.30" y1="276.00" x2="66.30" y2="474.20" stroke="#1a1a1a" stroke-width="1.3"/>
<line x1="63.30" y1="473.50" x2="418.00" y2="473.50" stroke="#1a1a1a" stroke-width="1.4"/>
<line x1="63.30" y1="473.50" x2="66.30" y2="473.50" stroke="#1a1a1a" stroke-width="1.3"/>
<text x="55.20" y="479.40" font-size="10.0" text-anchor="end" textLength="5.45" lengthAdjust="spacingAndGlyphs" >0</text>
<line x1="63.30" y1="424.25" x2="66.30" y2="424.25" stroke="#1a1a1a" stroke-width="1.3"/>
<text x="55.20" y="430.15" font-size="10.0" text-anchor="end" textLength="10.90" lengthAdjust="spacingAndGlyphs" >25</text>
<line x1="63.30" y1="375.00" x2="66.30" y2="375.00" stroke="#1a1a1a" stroke-width="1.3"/>
<text x="55.20" y="380.90" font-size="10.0" text-anchor="end" textLength="10.90" lengthAdjust="spacingAndGlyphs" >50</text>
<line x1="63.30" y1="325.75" x2="66.30" y2="325.75" stroke="#1a1a1a" stroke-width="1.3"/>
<text x="55.20" y="331.65" font-size="10.0" text-anchor="end" textLength="10.90" lengthAdjust="spacingAndGlyphs" >75</text>
<line x1="63.30" y1="276.50" x2="66.30" y2="276.50" stroke="#1a1a1a" stroke-width="1.3"/>
<text x="55.20" y="282.40" font-size="10.0" text-anchor="end" textLength="16.35" lengthAdjust="spacingAndGlyphs" >100</text>
<line x1="110.30" y1="473.50" x2="110.30" y2="476.80" stroke="#1a1a1a" stroke-width="1.3"/>
<line x1="154.30" y1="473.50" x2="154.30" y2="476.80" stroke="#1a1a1a" stroke-width="1.3"/>
<line x1="198.30" y1="473.50" x2="198.30" y2="476.80" stroke="#1a1a1a" stroke-width="1.3"/>
<line x1="242.30" y1="473.50" x2="242.30" y2="476.80" stroke="#1a1a1a" stroke-width="1.3"/>
<line x1="286.30" y1="473.50" x2="286.30" y2="476.80" stroke="#1a1a1a" stroke-width="1.3"/>
<line x1="330.30" y1="473.50" x2="330.30" y2="476.80" stroke="#1a1a1a" stroke-width="1.3"/>
<line x1="374.30" y1="473.50" x2="374.30" y2="476.80" stroke="#1a1a1a" stroke-width="1.3"/>
<line x1="418.30" y1="473.50" x2="418.30" y2="476.80" stroke="#1a1a1a" stroke-width="1.3"/>
<text x="88.30" y="493.40" font-size="10.4" text-anchor="middle" textLength="5.30" lengthAdjust="spacingAndGlyphs" >4</text>
<text x="132.30" y="493.40" font-size="10.4" text-anchor="middle" textLength="5.30" lengthAdjust="spacingAndGlyphs" >8</text>
<text x="176.30" y="493.40" font-size="10.4" text-anchor="middle" textLength="10.60" lengthAdjust="spacingAndGlyphs" >12</text>
<text x="220.30" y="493.40" font-size="10.4" text-anchor="middle" textLength="10.60" lengthAdjust="spacingAndGlyphs" >16</text>
<text x="264.30" y="493.40" font-size="10.4" text-anchor="middle" textLength="10.60" lengthAdjust="spacingAndGlyphs" >20</text>
<text x="308.30" y="493.40" font-size="10.4" text-anchor="middle" textLength="10.60" lengthAdjust="spacingAndGlyphs" >24</text>
<text x="352.30" y="493.40" font-size="10.4" text-anchor="middle" textLength="10.60" lengthAdjust="spacingAndGlyphs" >32</text>
<text x="396.30" y="493.40" font-size="10.4" text-anchor="middle" textLength="10.60" lengthAdjust="spacingAndGlyphs" >40</text>
<text x="217.70" y="511.60" font-size="11.6" textLength="69.20" lengthAdjust="spacingAndGlyphs" >Age (weeks)</text>
<text x="30.60" y="434.00" font-size="10.8" textLength="114.80" lengthAdjust="spacingAndGlyphs" transform="rotate(-90 30.60 434.00)" >% donor hemoglobin</text>
<line x1="88.30" y1="460.00" x2="88.30" y2="468.00" stroke="#262626" stroke-width="1.05"/>
<line x1="85.10" y1="460.00" x2="91.50" y2="460.00" stroke="#262626" stroke-width="1.05"/>
<line x1="85.10" y1="468.00" x2="91.50" y2="468.00" stroke="#262626" stroke-width="1.05"/>
<line x1="132.30" y1="454.00" x2="132.30" y2="462.00" stroke="#262626" stroke-width="1.05"/>
<line x1="129.10" y1="454.00" x2="135.50" y2="454.00" stroke="#262626" stroke-width="1.05"/>
<line x1="129.10" y1="462.00" x2="135.50" y2="462.00" stroke="#262626" stroke-width="1.05"/>
<line x1="176.30" y1="425.70" x2="176.30" y2="452.50" stroke="#262626" stroke-width="1.05"/>
<line x1="173.10" y1="425.70" x2="179.50" y2="425.70" stroke="#262626" stroke-width="1.05"/>
<line x1="173.10" y1="452.50" x2="179.50" y2="452.50" stroke="#262626" stroke-width="1.05"/>
<line x1="220.30" y1="413.60" x2="220.30" y2="440.50" stroke="#262626" stroke-width="1.05"/>
<line x1="217.10" y1="413.60" x2="223.50" y2="413.60" stroke="#262626" stroke-width="1.05"/>
<line x1="217.10" y1="440.50" x2="223.50" y2="440.50" stroke="#262626" stroke-width="1.05"/>
<line x1="264.30" y1="414.80" x2="264.30" y2="443.90" stroke="#262626" stroke-width="1.05"/>
<line x1="261.10" y1="414.80" x2="267.50" y2="414.80" stroke="#262626" stroke-width="1.05"/>
<line x1="261.10" y1="443.90" x2="267.50" y2="443.90" stroke="#262626" stroke-width="1.05"/>
<line x1="308.30" y1="411.00" x2="308.30" y2="433.60" stroke="#262626" stroke-width="1.05"/>
<line x1="305.10" y1="411.00" x2="311.50" y2="411.00" stroke="#262626" stroke-width="1.05"/>
<line x1="305.10" y1="433.60" x2="311.50" y2="433.60" stroke="#262626" stroke-width="1.05"/>
<line x1="352.30" y1="405.60" x2="352.30" y2="414.80" stroke="#262626" stroke-width="1.05"/>
<line x1="349.10" y1="405.60" x2="355.50" y2="405.60" stroke="#262626" stroke-width="1.05"/>
<line x1="349.10" y1="414.80" x2="355.50" y2="414.80" stroke="#262626" stroke-width="1.05"/>
<polyline points="88.30,464.00 132.30,458.00 176.30,439.40 220.30,427.80 264.30,429.00 308.30,422.30 352.30,410.20" fill="none" stroke="#1a1a1a" stroke-width="1.2" stroke-linejoin="round"/>
<line x1="88.30" y1="444.00" x2="88.30" y2="456.00" stroke="#262626" stroke-width="1.05"/>
<line x1="85.10" y1="444.00" x2="91.50" y2="444.00" stroke="#262626" stroke-width="1.05"/>
<line x1="85.10" y1="456.00" x2="91.50" y2="456.00" stroke="#262626" stroke-width="1.05"/>
<line x1="132.30" y1="408.80" x2="132.30" y2="437.30" stroke="#262626" stroke-width="1.05"/>
<line x1="129.10" y1="408.80" x2="135.50" y2="408.80" stroke="#262626" stroke-width="1.05"/>
<line x1="129.10" y1="437.30" x2="135.50" y2="437.30" stroke="#262626" stroke-width="1.05"/>
<line x1="176.30" y1="364.30" x2="176.30" y2="394.00" stroke="#262626" stroke-width="1.05"/>
<line x1="173.10" y1="364.30" x2="179.50" y2="364.30" stroke="#262626" stroke-width="1.05"/>
<line x1="173.10" y1="394.00" x2="179.50" y2="394.00" stroke="#262626" stroke-width="1.05"/>
<line x1="220.30" y1="330.50" x2="220.30" y2="366.40" stroke="#262626" stroke-width="1.05"/>
<line x1="217.10" y1="330.50" x2="223.50" y2="330.50" stroke="#262626" stroke-width="1.05"/>
<line x1="217.10" y1="366.40" x2="223.50" y2="366.40" stroke="#262626" stroke-width="1.05"/>
<line x1="264.30" y1="337.50" x2="264.30" y2="368.50" stroke="#262626" stroke-width="1.05"/>
<line x1="261.10" y1="337.50" x2="267.50" y2="337.50" stroke="#262626" stroke-width="1.05"/>
<line x1="261.10" y1="368.50" x2="267.50" y2="368.50" stroke="#262626" stroke-width="1.05"/>
<line x1="308.30" y1="335.60" x2="308.30" y2="367.90" stroke="#262626" stroke-width="1.05"/>
<line x1="305.10" y1="335.60" x2="311.50" y2="335.60" stroke="#262626" stroke-width="1.05"/>
<line x1="305.10" y1="367.90" x2="311.50" y2="367.90" stroke="#262626" stroke-width="1.05"/>
<polyline points="88.30,450.30 132.30,423.10 176.30,379.10 220.30,348.00 264.30,353.70 308.30,351.80" fill="none" stroke="#1a1a1a" stroke-width="1.2" stroke-linejoin="round"/>
<line x1="88.30" y1="396.70" x2="88.30" y2="427.50" stroke="#262626" stroke-width="1.05"/>
<line x1="85.10" y1="396.70" x2="91.50" y2="396.70" stroke="#262626" stroke-width="1.05"/>
<line x1="85.10" y1="427.50" x2="91.50" y2="427.50" stroke="#262626" stroke-width="1.05"/>
<line x1="132.30" y1="347.00" x2="132.30" y2="362.00" stroke="#262626" stroke-width="1.05"/>
<line x1="129.10" y1="347.00" x2="135.50" y2="347.00" stroke="#262626" stroke-width="1.05"/>
<line x1="129.10" y1="362.00" x2="135.50" y2="362.00" stroke="#262626" stroke-width="1.05"/>
<line x1="176.30" y1="313.00" x2="176.30" y2="327.00" stroke="#262626" stroke-width="1.05"/>
<line x1="173.10" y1="313.00" x2="179.50" y2="313.00" stroke="#262626" stroke-width="1.05"/>
<line x1="173.10" y1="327.00" x2="179.50" y2="327.00" stroke="#262626" stroke-width="1.05"/>
<line x1="220.30" y1="314.00" x2="220.30" y2="328.40" stroke="#262626" stroke-width="1.05"/>
<line x1="217.10" y1="314.00" x2="223.50" y2="314.00" stroke="#262626" stroke-width="1.05"/>
<line x1="217.10" y1="328.40" x2="223.50" y2="328.40" stroke="#262626" stroke-width="1.05"/>
<line x1="264.30" y1="309.30" x2="264.30" y2="323.70" stroke="#262626" stroke-width="1.05"/>
<line x1="261.10" y1="309.30" x2="267.50" y2="309.30" stroke="#262626" stroke-width="1.05"/>
<line x1="261.10" y1="323.70" x2="267.50" y2="323.70" stroke="#262626" stroke-width="1.05"/>
<line x1="308.30" y1="302.40" x2="308.30" y2="318.00" stroke="#262626" stroke-width="1.05"/>
<line x1="305.10" y1="302.40" x2="311.50" y2="302.40" stroke="#262626" stroke-width="1.05"/>
<line x1="305.10" y1="318.00" x2="311.50" y2="318.00" stroke="#262626" stroke-width="1.05"/>
<polyline points="88.30,414.40 132.30,354.50 176.30,320.00 220.30,322.30 264.30,318.00 308.30,311.00" fill="none" stroke="#1a1a1a" stroke-width="1.2" stroke-linejoin="round"/>
<line x1="88.30" y1="463.00" x2="88.30" y2="473.00" stroke="#262626" stroke-width="1.05"/>
<line x1="85.10" y1="463.00" x2="91.50" y2="463.00" stroke="#262626" stroke-width="1.05"/>
<line x1="85.10" y1="473.00" x2="91.50" y2="473.00" stroke="#262626" stroke-width="1.05"/>
<line x1="132.30" y1="391.00" x2="132.30" y2="401.00" stroke="#262626" stroke-width="1.05"/>
<line x1="129.10" y1="391.00" x2="135.50" y2="391.00" stroke="#262626" stroke-width="1.05"/>
<line x1="129.10" y1="401.00" x2="135.50" y2="401.00" stroke="#262626" stroke-width="1.05"/>
<line x1="176.30" y1="326.00" x2="176.30" y2="343.00" stroke="#262626" stroke-width="1.05"/>
<line x1="173.10" y1="326.00" x2="179.50" y2="326.00" stroke="#262626" stroke-width="1.05"/>
<line x1="173.10" y1="343.00" x2="179.50" y2="343.00" stroke="#262626" stroke-width="1.05"/>
<line x1="220.30" y1="290.00" x2="220.30" y2="300.00" stroke="#262626" stroke-width="1.05"/>
<line x1="217.10" y1="290.00" x2="223.50" y2="290.00" stroke="#262626" stroke-width="1.05"/>
<line x1="217.10" y1="300.00" x2="223.50" y2="300.00" stroke="#262626" stroke-width="1.05"/>
<line x1="264.30" y1="287.00" x2="264.30" y2="296.00" stroke="#262626" stroke-width="1.05"/>
<line x1="261.10" y1="287.00" x2="267.50" y2="287.00" stroke="#262626" stroke-width="1.05"/>
<line x1="261.10" y1="296.00" x2="267.50" y2="296.00" stroke="#262626" stroke-width="1.05"/>
<line x1="308.30" y1="287.00" x2="308.30" y2="296.00" stroke="#262626" stroke-width="1.05"/>
<line x1="305.10" y1="287.00" x2="311.50" y2="287.00" stroke="#262626" stroke-width="1.05"/>
<line x1="305.10" y1="296.00" x2="311.50" y2="296.00" stroke="#262626" stroke-width="1.05"/>
<line x1="352.30" y1="287.00" x2="352.30" y2="296.00" stroke="#262626" stroke-width="1.05"/>
<line x1="349.10" y1="287.00" x2="355.50" y2="287.00" stroke="#262626" stroke-width="1.05"/>
<line x1="349.10" y1="296.00" x2="355.50" y2="296.00" stroke="#262626" stroke-width="1.05"/>
<line x1="396.30" y1="283.00" x2="396.30" y2="290.00" stroke="#262626" stroke-width="1.05"/>
<line x1="393.10" y1="283.00" x2="399.50" y2="283.00" stroke="#262626" stroke-width="1.05"/>
<line x1="393.10" y1="290.00" x2="399.50" y2="290.00" stroke="#262626" stroke-width="1.05"/>
<polyline points="88.30,468.00 132.30,396.10 176.30,333.60 220.30,297.00 264.30,292.50 308.30,292.00 352.30,292.50 396.30,286.00" fill="none" stroke="#1a1a1a" stroke-width="1.2" stroke-linejoin="round"/>
<line x1="132.30" y1="346.00" x2="132.30" y2="364.00" stroke="#262626" stroke-width="1.05"/>
<line x1="129.10" y1="346.00" x2="135.50" y2="346.00" stroke="#262626" stroke-width="1.05"/>
<line x1="129.10" y1="364.00" x2="135.50" y2="364.00" stroke="#262626" stroke-width="1.05"/>
<line x1="176.30" y1="314.00" x2="176.30" y2="329.00" stroke="#262626" stroke-width="1.05"/>
<line x1="173.10" y1="314.00" x2="179.50" y2="314.00" stroke="#262626" stroke-width="1.05"/>
<line x1="173.10" y1="329.00" x2="179.50" y2="329.00" stroke="#262626" stroke-width="1.05"/>
<line x1="220.30" y1="285.00" x2="220.30" y2="295.00" stroke="#262626" stroke-width="1.05"/>
<line x1="217.10" y1="285.00" x2="223.50" y2="285.00" stroke="#262626" stroke-width="1.05"/>
<line x1="217.10" y1="295.00" x2="223.50" y2="295.00" stroke="#262626" stroke-width="1.05"/>
<line x1="264.30" y1="286.00" x2="264.30" y2="295.00" stroke="#262626" stroke-width="1.05"/>
<line x1="261.10" y1="286.00" x2="267.50" y2="286.00" stroke="#262626" stroke-width="1.05"/>
<line x1="261.10" y1="295.00" x2="267.50" y2="295.00" stroke="#262626" stroke-width="1.05"/>
<line x1="308.30" y1="285.00" x2="308.30" y2="294.00" stroke="#262626" stroke-width="1.05"/>
<line x1="305.10" y1="285.00" x2="311.50" y2="285.00" stroke="#262626" stroke-width="1.05"/>
<line x1="305.10" y1="294.00" x2="311.50" y2="294.00" stroke="#262626" stroke-width="1.05"/>
<line x1="352.30" y1="286.00" x2="352.30" y2="295.00" stroke="#262626" stroke-width="1.05"/>
<line x1="349.10" y1="286.00" x2="355.50" y2="286.00" stroke="#262626" stroke-width="1.05"/>
<line x1="349.10" y1="295.00" x2="355.50" y2="295.00" stroke="#262626" stroke-width="1.05"/>
<polyline points="88.30,464.00 132.30,354.40 176.30,321.40 220.30,294.00 264.30,291.00 308.30,290.50 352.30,290.50" fill="none" stroke="#1a1a1a" stroke-width="1.9" stroke-linejoin="round" stroke-dasharray="4.2 2.6"/>
<line x1="88.30" y1="440.00" x2="88.30" y2="449.00" stroke="#262626" stroke-width="1.05"/>
<line x1="85.10" y1="440.00" x2="91.50" y2="440.00" stroke="#262626" stroke-width="1.05"/>
<line x1="85.10" y1="449.00" x2="91.50" y2="449.00" stroke="#262626" stroke-width="1.05"/>
<line x1="132.30" y1="371.20" x2="132.30" y2="382.40" stroke="#262626" stroke-width="1.05"/>
<line x1="129.10" y1="371.20" x2="135.50" y2="371.20" stroke="#262626" stroke-width="1.05"/>
<line x1="129.10" y1="382.40" x2="135.50" y2="382.40" stroke="#262626" stroke-width="1.05"/>
<line x1="176.30" y1="309.00" x2="176.30" y2="323.00" stroke="#262626" stroke-width="1.05"/>
<line x1="173.10" y1="309.00" x2="179.50" y2="309.00" stroke="#262626" stroke-width="1.05"/>
<line x1="173.10" y1="323.00" x2="179.50" y2="323.00" stroke="#262626" stroke-width="1.05"/>
<line x1="220.30" y1="286.00" x2="220.30" y2="296.00" stroke="#262626" stroke-width="1.05"/>
<line x1="217.10" y1="286.00" x2="223.50" y2="286.00" stroke="#262626" stroke-width="1.05"/>
<line x1="217.10" y1="296.00" x2="223.50" y2="296.00" stroke="#262626" stroke-width="1.05"/>
<line x1="264.30" y1="287.00" x2="264.30" y2="296.00" stroke="#262626" stroke-width="1.05"/>
<line x1="261.10" y1="287.00" x2="267.50" y2="287.00" stroke="#262626" stroke-width="1.05"/>
<line x1="261.10" y1="296.00" x2="267.50" y2="296.00" stroke="#262626" stroke-width="1.05"/>
<line x1="308.30" y1="288.00" x2="308.30" y2="297.00" stroke="#262626" stroke-width="1.05"/>
<line x1="305.10" y1="288.00" x2="311.50" y2="288.00" stroke="#262626" stroke-width="1.05"/>
<line x1="305.10" y1="297.00" x2="311.50" y2="297.00" stroke="#262626" stroke-width="1.05"/>
<line x1="352.30" y1="288.00" x2="352.30" y2="297.00" stroke="#262626" stroke-width="1.05"/>
<line x1="349.10" y1="288.00" x2="355.50" y2="288.00" stroke="#262626" stroke-width="1.05"/>
<line x1="349.10" y1="297.00" x2="355.50" y2="297.00" stroke="#262626" stroke-width="1.05"/>
<polyline points="88.30,444.60 132.30,377.00 176.30,316.20 220.30,295.50 264.30,292.00 308.30,291.50 352.30,291.50" fill="none" stroke="#1a1a1a" stroke-width="1.9" stroke-linejoin="round" stroke-dasharray="4.2 2.6"/>
<line x1="88.30" y1="433.00" x2="88.30" y2="441.00" stroke="#262626" stroke-width="1.05"/>
<line x1="85.10" y1="433.00" x2="91.50" y2="433.00" stroke="#262626" stroke-width="1.05"/>
<line x1="85.10" y1="441.00" x2="91.50" y2="441.00" stroke="#262626" stroke-width="1.05"/>
<line x1="132.30" y1="300.00" x2="132.30" y2="311.00" stroke="#262626" stroke-width="1.05"/>
<line x1="129.10" y1="300.00" x2="135.50" y2="300.00" stroke="#262626" stroke-width="1.05"/>
<line x1="129.10" y1="311.00" x2="135.50" y2="311.00" stroke="#262626" stroke-width="1.05"/>
<line x1="176.30" y1="286.00" x2="176.30" y2="295.00" stroke="#262626" stroke-width="1.05"/>
<line x1="173.10" y1="286.00" x2="179.50" y2="286.00" stroke="#262626" stroke-width="1.05"/>
<line x1="173.10" y1="295.00" x2="179.50" y2="295.00" stroke="#262626" stroke-width="1.05"/>
<line x1="220.30" y1="280.00" x2="220.30" y2="289.00" stroke="#262626" stroke-width="1.05"/>
<line x1="217.10" y1="280.00" x2="223.50" y2="280.00" stroke="#262626" stroke-width="1.05"/>
<line x1="217.10" y1="289.00" x2="223.50" y2="289.00" stroke="#262626" stroke-width="1.05"/>
<line x1="264.30" y1="279.00" x2="264.30" y2="287.00" stroke="#262626" stroke-width="1.05"/>
<line x1="261.10" y1="279.00" x2="267.50" y2="279.00" stroke="#262626" stroke-width="1.05"/>
<line x1="261.10" y1="287.00" x2="267.50" y2="287.00" stroke="#262626" stroke-width="1.05"/>
<line x1="308.30" y1="279.00" x2="308.30" y2="286.00" stroke="#262626" stroke-width="1.05"/>
<line x1="305.10" y1="279.00" x2="311.50" y2="279.00" stroke="#262626" stroke-width="1.05"/>
<line x1="305.10" y1="286.00" x2="311.50" y2="286.00" stroke="#262626" stroke-width="1.05"/>
<line x1="352.30" y1="279.00" x2="352.30" y2="287.00" stroke="#262626" stroke-width="1.05"/>
<line x1="349.10" y1="279.00" x2="355.50" y2="279.00" stroke="#262626" stroke-width="1.05"/>
<line x1="349.10" y1="287.00" x2="355.50" y2="287.00" stroke="#262626" stroke-width="1.05"/>
<polyline points="88.30,439.50 132.30,305.90 176.30,290.30 220.30,284.20 264.30,283.00 308.30,282.50 352.30,283.20" fill="none" stroke="#1a1a1a" stroke-width="1.9" stroke-linejoin="round" stroke-dasharray="4.2 2.6"/>
<line x1="88.30" y1="456.00" x2="88.30" y2="466.00" stroke="#262626" stroke-width="1.05"/>
<line x1="85.10" y1="456.00" x2="91.50" y2="456.00" stroke="#262626" stroke-width="1.05"/>
<line x1="85.10" y1="466.00" x2="91.50" y2="466.00" stroke="#262626" stroke-width="1.05"/>
<line x1="132.30" y1="337.00" x2="132.30" y2="348.00" stroke="#262626" stroke-width="1.05"/>
<line x1="129.10" y1="337.00" x2="135.50" y2="337.00" stroke="#262626" stroke-width="1.05"/>
<line x1="129.10" y1="348.00" x2="135.50" y2="348.00" stroke="#262626" stroke-width="1.05"/>
<line x1="176.30" y1="305.30" x2="176.30" y2="315.00" stroke="#262626" stroke-width="1.05"/>
<line x1="173.10" y1="305.30" x2="179.50" y2="305.30" stroke="#262626" stroke-width="1.05"/>
<line x1="173.10" y1="315.00" x2="179.50" y2="315.00" stroke="#262626" stroke-width="1.05"/>
<polyline points="88.30,461.00 132.30,342.70 176.30,310.20 220.30,277.30 264.30,277.30 308.30,277.30 352.30,277.60 396.30,277.60" fill="none" stroke="#1a1a1a" stroke-width="1.2" stroke-linejoin="round"/>
<line x1="88.30" y1="426.00" x2="88.30" y2="439.00" stroke="#262626" stroke-width="1.05"/>
<line x1="85.10" y1="426.00" x2="91.50" y2="426.00" stroke="#262626" stroke-width="1.05"/>
<line x1="85.10" y1="439.00" x2="91.50" y2="439.00" stroke="#262626" stroke-width="1.05"/>
<line x1="132.30" y1="288.60" x2="132.30" y2="300.00" stroke="#262626" stroke-width="1.05"/>
<line x1="129.10" y1="288.60" x2="135.50" y2="288.60" stroke="#262626" stroke-width="1.05"/>
<line x1="129.10" y1="300.00" x2="135.50" y2="300.00" stroke="#262626" stroke-width="1.05"/>
<line x1="176.30" y1="277.30" x2="176.30" y2="282.00" stroke="#262626" stroke-width="1.05"/>
<line x1="173.10" y1="277.30" x2="179.50" y2="277.30" stroke="#262626" stroke-width="1.05"/>
<line x1="173.10" y1="282.00" x2="179.50" y2="282.00" stroke="#262626" stroke-width="1.05"/>
<polyline points="88.30,432.80 132.30,294.60 176.30,279.50 220.30,278.00 264.30,277.50 308.30,277.50 352.30,277.50" fill="none" stroke="#1a1a1a" stroke-width="1.2" stroke-linejoin="round"/>
<rect x="85.20" y="460.90" width="6.20" height="6.20" fill="none" stroke="#111" stroke-width="1.1"/>
<rect x="129.20" y="454.90" width="6.20" height="6.20" fill="none" stroke="#111" stroke-width="1.1"/>
<rect x="173.20" y="436.30" width="6.20" height="6.20" fill="none" stroke="#111" stroke-width="1.1"/>
<rect x="217.20" y="424.70" width="6.20" height="6.20" fill="none" stroke="#111" stroke-width="1.1"/>
<rect x="261.20" y="425.90" width="6.20" height="6.20" fill="none" stroke="#111" stroke-width="1.1"/>
<rect x="305.20" y="419.20" width="6.20" height="6.20" fill="none" stroke="#111" stroke-width="1.1"/>
<rect x="349.20" y="407.10" width="6.20" height="6.20" fill="none" stroke="#111" stroke-width="1.1"/>
<circle cx="88.30" cy="450.30" r="3.30" fill="none" stroke="#111" stroke-width="1.1"/>
<circle cx="132.30" cy="423.10" r="3.30" fill="none" stroke="#111" stroke-width="1.1"/>
<circle cx="176.30" cy="379.10" r="3.30" fill="none" stroke="#111" stroke-width="1.1"/>
<circle cx="220.30" cy="348.00" r="3.30" fill="none" stroke="#111" stroke-width="1.1"/>
<circle cx="264.30" cy="353.70" r="3.30" fill="none" stroke="#111" stroke-width="1.1"/>
<circle cx="308.30" cy="351.80" r="3.30" fill="none" stroke="#111" stroke-width="1.1"/>
<polygon points="88.30,411.20 91.20,417.00 85.40,417.00" fill="none" stroke="#444" stroke-width="0.85" stroke-dasharray="2 1"/>
<polygon points="132.30,351.30 135.20,357.10 129.40,357.10" fill="none" stroke="#444" stroke-width="0.85" stroke-dasharray="2 1"/>
<polygon points="176.30,316.80 179.20,322.60 173.40,322.60" fill="none" stroke="#444" stroke-width="0.85" stroke-dasharray="2 1"/>
<polygon points="220.30,319.10 223.20,324.90 217.40,324.90" fill="none" stroke="#444" stroke-width="0.85" stroke-dasharray="2 1"/>
<polygon points="264.30,314.80 267.20,320.60 261.40,320.60" fill="none" stroke="#444" stroke-width="0.85" stroke-dasharray="2 1"/>
<polygon points="308.30,307.80 311.20,313.60 305.40,313.60" fill="none" stroke="#444" stroke-width="0.85" stroke-dasharray="2 1"/>
<rect x="85.40" y="465.10" width="5.80" height="5.80" fill="#111" stroke="#111" stroke-width="0.5"/>
<rect x="129.40" y="393.20" width="5.80" height="5.80" fill="#111" stroke="#111" stroke-width="0.5"/>
<rect x="173.40" y="330.70" width="5.80" height="5.80" fill="#111" stroke="#111" stroke-width="0.5"/>
<rect x="217.40" y="294.10" width="5.80" height="5.80" fill="#111" stroke="#111" stroke-width="0.5"/>
<rect x="261.40" y="289.60" width="5.80" height="5.80" fill="#111" stroke="#111" stroke-width="0.5"/>
<rect x="305.40" y="289.10" width="5.80" height="5.80" fill="#111" stroke="#111" stroke-width="0.5"/>
<rect x="349.40" y="289.60" width="5.80" height="5.80" fill="#111" stroke="#111" stroke-width="0.5"/>
<rect x="393.40" y="283.10" width="5.80" height="5.80" fill="#111" stroke="#111" stroke-width="0.5"/>
<rect x="85.20" y="460.90" width="6.20" height="6.20" fill="none" stroke="#111" stroke-width="1.1"/>
<rect x="129.20" y="351.30" width="6.20" height="6.20" fill="none" stroke="#111" stroke-width="1.1"/>
<rect x="173.20" y="318.30" width="6.20" height="6.20" fill="none" stroke="#111" stroke-width="1.1"/>
<rect x="217.20" y="290.90" width="6.20" height="6.20" fill="none" stroke="#111" stroke-width="1.1"/>
<rect x="261.20" y="287.90" width="6.20" height="6.20" fill="none" stroke="#111" stroke-width="1.1"/>
<rect x="305.20" y="287.40" width="6.20" height="6.20" fill="none" stroke="#111" stroke-width="1.1"/>
<rect x="349.20" y="287.40" width="6.20" height="6.20" fill="none" stroke="#111" stroke-width="1.1"/>
<circle cx="88.30" cy="444.60" r="3.30" fill="none" stroke="#111" stroke-width="1.1"/>
<circle cx="132.30" cy="377.00" r="3.30" fill="none" stroke="#111" stroke-width="1.1"/>
<circle cx="176.30" cy="316.20" r="3.30" fill="none" stroke="#111" stroke-width="1.1"/>
<circle cx="220.30" cy="295.50" r="3.30" fill="none" stroke="#111" stroke-width="1.1"/>
<circle cx="264.30" cy="292.00" r="3.30" fill="none" stroke="#111" stroke-width="1.1"/>
<circle cx="308.30" cy="291.50" r="3.30" fill="none" stroke="#111" stroke-width="1.1"/>
<circle cx="352.30" cy="291.50" r="3.30" fill="none" stroke="#111" stroke-width="1.1"/>
<polygon points="88.30,435.90 91.60,442.50 85.00,442.50" fill="none" stroke="#111" stroke-width="1.1" stroke-linejoin="miter"/>
<polygon points="132.30,302.30 135.60,308.90 129.00,308.90" fill="none" stroke="#111" stroke-width="1.1" stroke-linejoin="miter"/>
<polygon points="176.30,286.70 179.60,293.30 173.00,293.30" fill="none" stroke="#111" stroke-width="1.1" stroke-linejoin="miter"/>
<polygon points="220.30,280.60 223.60,287.20 217.00,287.20" fill="none" stroke="#111" stroke-width="1.1" stroke-linejoin="miter"/>
<polygon points="264.30,279.40 267.60,286.00 261.00,286.00" fill="none" stroke="#111" stroke-width="1.1" stroke-linejoin="miter"/>
<polygon points="308.30,278.90 311.60,285.50 305.00,285.50" fill="none" stroke="#111" stroke-width="1.1" stroke-linejoin="miter"/>
<polygon points="352.30,279.60 355.60,286.20 349.00,286.20" fill="none" stroke="#111" stroke-width="1.1" stroke-linejoin="miter"/>
<circle cx="88.30" cy="461.00" r="3.00" fill="#111" stroke="#111" stroke-width="0.5"/>
<circle cx="132.30" cy="342.70" r="3.00" fill="#111" stroke="#111" stroke-width="0.5"/>
<circle cx="176.30" cy="310.20" r="3.00" fill="#111" stroke="#111" stroke-width="0.5"/>
<circle cx="220.30" cy="277.30" r="3.00" fill="#111" stroke="#111" stroke-width="0.5"/>
<circle cx="264.30" cy="277.30" r="3.00" fill="#111" stroke="#111" stroke-width="0.5"/>
<circle cx="308.30" cy="277.30" r="3.00" fill="#111" stroke="#111" stroke-width="0.5"/>
<circle cx="352.30" cy="277.60" r="3.00" fill="#111" stroke="#111" stroke-width="0.5"/>
<circle cx="396.30" cy="277.60" r="3.00" fill="#111" stroke="#111" stroke-width="0.5"/>
<polygon points="88.30,429.50 91.30,435.50 85.30,435.50" fill="#111" stroke="#111" stroke-width="0.5" stroke-linejoin="miter"/>
<polygon points="132.30,291.30 135.30,297.30 129.30,297.30" fill="#111" stroke="#111" stroke-width="0.5" stroke-linejoin="miter"/>
<polygon points="176.30,276.20 179.30,282.20 173.30,282.20" fill="#111" stroke="#111" stroke-width="0.5" stroke-linejoin="miter"/>
<polygon points="220.30,274.70 223.30,280.70 217.30,280.70" fill="#111" stroke="#111" stroke-width="0.5" stroke-linejoin="miter"/>
<polygon points="264.30,274.20 267.30,280.20 261.30,280.20" fill="#111" stroke="#111" stroke-width="0.5" stroke-linejoin="miter"/>
<polygon points="308.30,274.20 311.30,280.20 305.30,280.20" fill="#111" stroke="#111" stroke-width="0.5" stroke-linejoin="miter"/>
<polygon points="352.30,274.20 355.30,280.20 349.30,280.20" fill="#111" stroke="#111" stroke-width="0.5" stroke-linejoin="miter"/>
<text x="137.90" y="286.20" font-size="9.0" text-anchor="middle" >$</text>
<text x="182.70" y="302.70" font-size="9.0" text-anchor="middle" >&amp;</text>
<text x="183.40" y="326.00" font-size="7.0" text-anchor="middle" >#</text>
<text x="214.00" y="272.60" font-size="9.0" >#</text>
<text x="221.00" y="272.60" font-size="9.0" >$</text>
<text x="228.40" y="339.40" font-size="9.0" text-anchor="middle" >&amp;</text>
<text x="263.90" y="271.00" font-size="9.0" text-anchor="middle" >#</text>
<text x="298.80" y="271.40" font-size="9.0" textLength="19.00" lengthAdjust="spacingAndGlyphs" >#$&amp;</text>
<text x="346.20" y="272.40" font-size="9.0" textLength="13.30" lengthAdjust="spacingAndGlyphs" >$&amp;</text>
<text x="361.80" y="287.00" font-size="9.0" text-anchor="middle" >#</text>
<circle cx="136.5" cy="413" r="1.25" fill="#111"/>
<circle cx="132.1" cy="446.8" r="1.25" fill="#111"/>
<circle cx="176.1" cy="419.3" r="1.25" fill="#111"/>
<circle cx="219.8" cy="403.5" r="1.25" fill="#111"/>
<circle cx="263.9" cy="404" r="1.25" fill="#111"/>
<circle cx="307.5" cy="398" r="1.25" fill="#111"/>
<line x1="333.80" y1="314.50" x2="362.00" y2="314.50" stroke="#1a1a1a" stroke-width="1.5"/>
<rect x="345.10" y="311.40" width="6.20" height="6.20" fill="none" stroke="#111" stroke-width="1.1"/>
<text x="365.60" y="318.30" font-size="10.3" textLength="69.50" lengthAdjust="spacingAndGlyphs" >WT 0cGy (n=6)</text>
<line x1="333.80" y1="328.80" x2="362.00" y2="328.80" stroke="#1a1a1a" stroke-width="1.9" stroke-dasharray="4.2 2.6"/>
<rect x="345.10" y="325.70" width="6.20" height="6.20" fill="none" stroke="#111" stroke-width="1.1"/>
<text x="365.60" y="332.60" font-size="10.3" textLength="76.20" lengthAdjust="spacingAndGlyphs" >WT 82cGy (n=9)</text>
<line x1="333.80" y1="343.00" x2="362.00" y2="343.00" stroke="#1a1a1a" stroke-width="1.5"/>
<rect x="345.30" y="340.10" width="5.80" height="5.80" fill="#111" stroke="#111" stroke-width="0.5"/>
<text x="365.60" y="346.80" font-size="10.3" textLength="81.90" lengthAdjust="spacingAndGlyphs" >WT 138cGy (n=8)</text>
<line x1="333.80" y1="357.50" x2="362.00" y2="357.50" stroke="#1a1a1a" stroke-width="1.5"/>
<polygon points="348.20,354.10 351.30,360.30 345.10,360.30" fill="none" stroke="#222" stroke-width="0.9" stroke-dasharray="3 1"/>
<text x="365.60" y="361.30" font-size="10.3" textLength="74.40" lengthAdjust="spacingAndGlyphs" >Thal 0cGy (n=6)</text>
<line x1="333.80" y1="371.80" x2="362.00" y2="371.80" stroke="#1a1a1a" stroke-width="1.9" stroke-dasharray="4.2 2.6"/>
<polygon points="348.20,368.20 351.50,374.80 344.90,374.80" fill="none" stroke="#111" stroke-width="1.1" stroke-linejoin="miter"/>
<text x="365.60" y="375.60" font-size="10.3" textLength="86.40" lengthAdjust="spacingAndGlyphs" >Thal 82cGy (n=10)</text>
<line x1="333.80" y1="386.30" x2="362.00" y2="386.30" stroke="#1a1a1a" stroke-width="1.5"/>
<polygon points="348.20,383.00 351.20,389.00 345.20,389.00" fill="#111" stroke="#111" stroke-width="0.5" stroke-linejoin="miter"/>
<text x="365.60" y="390.10" font-size="10.3" textLength="86.40" lengthAdjust="spacingAndGlyphs" >Thal 138cGy (n=6)</text>
<line x1="333.80" y1="433.00" x2="362.00" y2="433.00" stroke="#1a1a1a" stroke-width="1.5"/>
<circle cx="348.20" cy="433.00" r="3.30" fill="none" stroke="#111" stroke-width="1.1"/>
<text x="365.60" y="436.80" font-size="10.3" textLength="72.60" lengthAdjust="spacingAndGlyphs" >SCD 0cGy (n=6)</text>
<line x1="333.80" y1="447.50" x2="362.00" y2="447.50" stroke="#1a1a1a" stroke-width="1.9" stroke-dasharray="4.2 2.6"/>
<circle cx="348.20" cy="447.50" r="3.30" fill="none" stroke="#111" stroke-width="1.1"/>
<text x="365.60" y="451.30" font-size="10.3" textLength="78.40" lengthAdjust="spacingAndGlyphs" >SCD 82cGy (n=8)</text>
<line x1="333.80" y1="462.00" x2="362.00" y2="462.00" stroke="#1a1a1a" stroke-width="1.5"/>
<circle cx="348.20" cy="462.00" r="3.00" fill="#111" stroke="#111" stroke-width="0.5"/>
<text x="365.60" y="465.80" font-size="10.3" textLength="84.10" lengthAdjust="spacingAndGlyphs" >SCD 138cGy (n=9)</text>
<text x="0.90" y="537.00" font-size="17.8" font-weight="bold" textLength="11.50" lengthAdjust="spacingAndGlyphs" >C</text>
<line x1="60.50" y1="539.00" x2="60.50" y2="737.00" stroke="#1a1a1a" stroke-width="1.3"/>
<line x1="57.70" y1="736.30" x2="411.00" y2="736.30" stroke="#1a1a1a" stroke-width="1.4"/>
<line x1="57.70" y1="736.30" x2="60.50" y2="736.30" stroke="#1a1a1a" stroke-width="1.3"/>
<text x="49.60" y="742.20" font-size="10.3" text-anchor="end" textLength="5.60" lengthAdjust="spacingAndGlyphs" >0</text>
<line x1="57.70" y1="687.08" x2="60.50" y2="687.08" stroke="#1a1a1a" stroke-width="1.3"/>
<text x="49.60" y="692.98" font-size="10.3" text-anchor="end" textLength="11.20" lengthAdjust="spacingAndGlyphs" >25</text>
<line x1="57.70" y1="637.86" x2="60.50" y2="637.86" stroke="#1a1a1a" stroke-width="1.3"/>
<text x="49.60" y="643.76" font-size="10.3" text-anchor="end" textLength="11.20" lengthAdjust="spacingAndGlyphs" >50</text>
<line x1="57.70" y1="588.64" x2="60.50" y2="588.64" stroke="#1a1a1a" stroke-width="1.3"/>
<text x="49.60" y="594.54" font-size="10.3" text-anchor="end" textLength="11.20" lengthAdjust="spacingAndGlyphs" >75</text>
<line x1="57.70" y1="539.42" x2="60.50" y2="539.42" stroke="#1a1a1a" stroke-width="1.3"/>
<text x="49.60" y="545.32" font-size="10.3" text-anchor="end" textLength="16.80" lengthAdjust="spacingAndGlyphs" >100</text>
<line x1="85.60" y1="736.30" x2="85.60" y2="739.60" stroke="#1a1a1a" stroke-width="1.3"/>
<line x1="110.60" y1="736.30" x2="110.60" y2="739.60" stroke="#1a1a1a" stroke-width="1.3"/>
<line x1="135.60" y1="736.30" x2="135.60" y2="739.60" stroke="#1a1a1a" stroke-width="1.3"/>
<line x1="160.60" y1="736.30" x2="160.60" y2="739.60" stroke="#1a1a1a" stroke-width="1.3"/>
<line x1="185.60" y1="736.30" x2="185.60" y2="739.60" stroke="#1a1a1a" stroke-width="1.3"/>
<line x1="210.60" y1="736.30" x2="210.60" y2="739.60" stroke="#1a1a1a" stroke-width="1.3"/>
<line x1="235.60" y1="736.30" x2="235.60" y2="739.60" stroke="#1a1a1a" stroke-width="1.3"/>
<line x1="260.60" y1="736.30" x2="260.60" y2="739.60" stroke="#1a1a1a" stroke-width="1.3"/>
<line x1="285.60" y1="736.30" x2="285.60" y2="739.60" stroke="#1a1a1a" stroke-width="1.3"/>
<line x1="310.60" y1="736.30" x2="310.60" y2="739.60" stroke="#1a1a1a" stroke-width="1.3"/>
<line x1="335.60" y1="736.30" x2="335.60" y2="739.60" stroke="#1a1a1a" stroke-width="1.3"/>
<line x1="360.60" y1="736.30" x2="360.60" y2="739.60" stroke="#1a1a1a" stroke-width="1.3"/>
<line x1="385.60" y1="736.30" x2="385.60" y2="739.60" stroke="#1a1a1a" stroke-width="1.3"/>
<line x1="410.60" y1="736.30" x2="410.60" y2="739.60" stroke="#1a1a1a" stroke-width="1.3"/>
<text x="73.10" y="755.90" font-size="10.6" text-anchor="middle" textLength="5.30" lengthAdjust="spacingAndGlyphs" >4</text>
<text x="98.10" y="755.90" font-size="10.6" text-anchor="middle" textLength="5.30" lengthAdjust="spacingAndGlyphs" >8</text>
<text x="123.10" y="755.90" font-size="10.6" text-anchor="middle" textLength="10.60" lengthAdjust="spacingAndGlyphs" >12</text>
<text x="148.10" y="755.90" font-size="10.6" text-anchor="middle" textLength="10.60" lengthAdjust="spacingAndGlyphs" >16</text>
<text x="173.10" y="755.90" font-size="10.6" text-anchor="middle" textLength="10.60" lengthAdjust="spacingAndGlyphs" >20</text>
<text x="198.10" y="755.90" font-size="10.6" text-anchor="middle" textLength="10.60" lengthAdjust="spacingAndGlyphs" >24</text>
<text x="223.10" y="755.90" font-size="10.6" text-anchor="middle" textLength="10.60" lengthAdjust="spacingAndGlyphs" >28</text>
<text x="248.10" y="755.90" font-size="10.6" text-anchor="middle" textLength="10.60" lengthAdjust="spacingAndGlyphs" >32</text>
<text x="273.10" y="755.90" font-size="10.6" text-anchor="middle" textLength="10.60" lengthAdjust="spacingAndGlyphs" >36</text>
<text x="298.10" y="755.90" font-size="10.6" text-anchor="middle" textLength="10.60" lengthAdjust="spacingAndGlyphs" >40</text>
<text x="323.10" y="755.90" font-size="10.6" text-anchor="middle" textLength="10.60" lengthAdjust="spacingAndGlyphs" >44</text>
<text x="348.10" y="755.90" font-size="10.6" text-anchor="middle" textLength="10.60" lengthAdjust="spacingAndGlyphs" >48</text>
<text x="373.10" y="755.90" font-size="10.6" text-anchor="middle" textLength="10.60" lengthAdjust="spacingAndGlyphs" >52</text>
<text x="398.10" y="755.90" font-size="10.6" text-anchor="middle" textLength="10.60" lengthAdjust="spacingAndGlyphs" >56</text>
<text x="219.70" y="774.80" font-size="11.6" textLength="68.80" lengthAdjust="spacingAndGlyphs" >Age (weeks)</text>
<text x="24.10" y="703.60" font-size="10.8" textLength="119.40" lengthAdjust="spacingAndGlyphs" transform="rotate(-90 24.10 703.60)" >% donor hemoglobin</text>
<line x1="73.10" y1="726.00" x2="73.10" y2="732.00" stroke="#262626" stroke-width="1.05"/>
<line x1="69.90" y1="726.00" x2="76.30" y2="726.00" stroke="#262626" stroke-width="1.05"/>
<line x1="69.90" y1="732.00" x2="76.30" y2="732.00" stroke="#262626" stroke-width="1.05"/>
<line x1="98.10" y1="726.00" x2="98.10" y2="732.00" stroke="#262626" stroke-width="1.05"/>
<line x1="94.90" y1="726.00" x2="101.30" y2="726.00" stroke="#262626" stroke-width="1.05"/>
<line x1="94.90" y1="732.00" x2="101.30" y2="732.00" stroke="#262626" stroke-width="1.05"/>
<line x1="273.10" y1="726.00" x2="273.10" y2="734.00" stroke="#262626" stroke-width="1.05"/>
<line x1="269.90" y1="726.00" x2="276.30" y2="726.00" stroke="#262626" stroke-width="1.05"/>
<line x1="269.90" y1="734.00" x2="276.30" y2="734.00" stroke="#262626" stroke-width="1.05"/>
<line x1="298.10" y1="722.00" x2="298.10" y2="733.00" stroke="#262626" stroke-width="1.05"/>
<line x1="294.90" y1="722.00" x2="301.30" y2="722.00" stroke="#262626" stroke-width="1.05"/>
<line x1="294.90" y1="733.00" x2="301.30" y2="733.00" stroke="#262626" stroke-width="1.05"/>
<line x1="323.10" y1="728.00" x2="323.10" y2="733.00" stroke="#262626" stroke-width="1.05"/>
<line x1="319.90" y1="728.00" x2="326.30" y2="728.00" stroke="#262626" stroke-width="1.05"/>
<line x1="319.90" y1="733.00" x2="326.30" y2="733.00" stroke="#262626" stroke-width="1.05"/>
<line x1="73.10" y1="702.00" x2="73.10" y2="712.00" stroke="#262626" stroke-width="1.05"/>
<line x1="69.90" y1="702.00" x2="76.30" y2="702.00" stroke="#262626" stroke-width="1.05"/>
<line x1="69.90" y1="712.00" x2="76.30" y2="712.00" stroke="#262626" stroke-width="1.05"/>
<line x1="98.10" y1="704.00" x2="98.10" y2="718.00" stroke="#262626" stroke-width="1.05"/>
<line x1="94.90" y1="704.00" x2="101.30" y2="704.00" stroke="#262626" stroke-width="1.05"/>
<line x1="94.90" y1="718.00" x2="101.30" y2="718.00" stroke="#262626" stroke-width="1.05"/>
<line x1="123.10" y1="711.00" x2="123.10" y2="722.00" stroke="#262626" stroke-width="1.05"/>
<line x1="119.90" y1="711.00" x2="126.30" y2="711.00" stroke="#262626" stroke-width="1.05"/>
<line x1="119.90" y1="722.00" x2="126.30" y2="722.00" stroke="#262626" stroke-width="1.05"/>
<line x1="273.10" y1="715.00" x2="273.10" y2="726.00" stroke="#262626" stroke-width="1.05"/>
<line x1="269.90" y1="715.00" x2="276.30" y2="715.00" stroke="#262626" stroke-width="1.05"/>
<line x1="269.90" y1="726.00" x2="276.30" y2="726.00" stroke="#262626" stroke-width="1.05"/>
<line x1="298.10" y1="714.00" x2="298.10" y2="726.00" stroke="#262626" stroke-width="1.05"/>
<line x1="294.90" y1="714.00" x2="301.30" y2="714.00" stroke="#262626" stroke-width="1.05"/>
<line x1="294.90" y1="726.00" x2="301.30" y2="726.00" stroke="#262626" stroke-width="1.05"/>
<line x1="73.10" y1="695.00" x2="73.10" y2="710.00" stroke="#262626" stroke-width="1.05"/>
<line x1="69.90" y1="695.00" x2="76.30" y2="695.00" stroke="#262626" stroke-width="1.05"/>
<line x1="69.90" y1="710.00" x2="76.30" y2="710.00" stroke="#262626" stroke-width="1.05"/>
<line x1="98.10" y1="654.50" x2="98.10" y2="684.00" stroke="#262626" stroke-width="1.05"/>
<line x1="94.90" y1="654.50" x2="101.30" y2="654.50" stroke="#262626" stroke-width="1.05"/>
<line x1="94.90" y1="684.00" x2="101.30" y2="684.00" stroke="#262626" stroke-width="1.05"/>
<line x1="123.10" y1="670.00" x2="123.10" y2="694.00" stroke="#262626" stroke-width="1.05"/>
<line x1="119.90" y1="670.00" x2="126.30" y2="670.00" stroke="#262626" stroke-width="1.05"/>
<line x1="119.90" y1="694.00" x2="126.30" y2="694.00" stroke="#262626" stroke-width="1.05"/>
<line x1="148.10" y1="678.80" x2="148.10" y2="706.00" stroke="#262626" stroke-width="1.05"/>
<line x1="144.90" y1="678.80" x2="151.30" y2="678.80" stroke="#262626" stroke-width="1.05"/>
<line x1="144.90" y1="706.00" x2="151.30" y2="706.00" stroke="#262626" stroke-width="1.05"/>
<line x1="173.10" y1="688.80" x2="173.10" y2="713.00" stroke="#262626" stroke-width="1.05"/>
<line x1="169.90" y1="688.80" x2="176.30" y2="688.80" stroke="#262626" stroke-width="1.05"/>
<line x1="169.90" y1="713.00" x2="176.30" y2="713.00" stroke="#262626" stroke-width="1.05"/>
<line x1="198.10" y1="686.30" x2="198.10" y2="711.00" stroke="#262626" stroke-width="1.05"/>
<line x1="194.90" y1="686.30" x2="201.30" y2="686.30" stroke="#262626" stroke-width="1.05"/>
<line x1="194.90" y1="711.00" x2="201.30" y2="711.00" stroke="#262626" stroke-width="1.05"/>
<line x1="223.10" y1="687.00" x2="223.10" y2="712.00" stroke="#262626" stroke-width="1.05"/>
<line x1="219.90" y1="687.00" x2="226.30" y2="687.00" stroke="#262626" stroke-width="1.05"/>
<line x1="219.90" y1="712.00" x2="226.30" y2="712.00" stroke="#262626" stroke-width="1.05"/>
<line x1="248.10" y1="672.00" x2="248.10" y2="711.00" stroke="#262626" stroke-width="1.05"/>
<line x1="244.90" y1="672.00" x2="251.30" y2="672.00" stroke="#262626" stroke-width="1.05"/>
<line x1="244.90" y1="711.00" x2="251.30" y2="711.00" stroke="#262626" stroke-width="1.05"/>
<line x1="273.10" y1="680.00" x2="273.10" y2="710.00" stroke="#262626" stroke-width="1.05"/>
<line x1="269.90" y1="680.00" x2="276.30" y2="680.00" stroke="#262626" stroke-width="1.05"/>
<line x1="269.90" y1="710.00" x2="276.30" y2="710.00" stroke="#262626" stroke-width="1.05"/>
<line x1="298.10" y1="679.40" x2="298.10" y2="710.00" stroke="#262626" stroke-width="1.05"/>
<line x1="294.90" y1="679.40" x2="301.30" y2="679.40" stroke="#262626" stroke-width="1.05"/>
<line x1="294.90" y1="710.00" x2="301.30" y2="710.00" stroke="#262626" stroke-width="1.05"/>
<line x1="73.10" y1="711.00" x2="73.10" y2="721.00" stroke="#262626" stroke-width="1.05"/>
<line x1="69.90" y1="711.00" x2="76.30" y2="711.00" stroke="#262626" stroke-width="1.05"/>
<line x1="69.90" y1="721.00" x2="76.30" y2="721.00" stroke="#262626" stroke-width="1.05"/>
<line x1="98.10" y1="703.00" x2="98.10" y2="715.00" stroke="#262626" stroke-width="1.05"/>
<line x1="94.90" y1="703.00" x2="101.30" y2="703.00" stroke="#262626" stroke-width="1.05"/>
<line x1="94.90" y1="715.00" x2="101.30" y2="715.00" stroke="#262626" stroke-width="1.05"/>
<line x1="123.10" y1="712.00" x2="123.10" y2="722.00" stroke="#262626" stroke-width="1.05"/>
<line x1="119.90" y1="712.00" x2="126.30" y2="712.00" stroke="#262626" stroke-width="1.05"/>
<line x1="119.90" y1="722.00" x2="126.30" y2="722.00" stroke="#262626" stroke-width="1.05"/>
<line x1="148.10" y1="714.00" x2="148.10" y2="726.00" stroke="#262626" stroke-width="1.05"/>
<line x1="144.90" y1="714.00" x2="151.30" y2="714.00" stroke="#262626" stroke-width="1.05"/>
<line x1="144.90" y1="726.00" x2="151.30" y2="726.00" stroke="#262626" stroke-width="1.05"/>
<line x1="173.10" y1="718.00" x2="173.10" y2="728.00" stroke="#262626" stroke-width="1.05"/>
<line x1="169.90" y1="718.00" x2="176.30" y2="718.00" stroke="#262626" stroke-width="1.05"/>
<line x1="169.90" y1="728.00" x2="176.30" y2="728.00" stroke="#262626" stroke-width="1.05"/>
<line x1="198.10" y1="714.00" x2="198.10" y2="724.00" stroke="#262626" stroke-width="1.05"/>
<line x1="194.90" y1="714.00" x2="201.30" y2="714.00" stroke="#262626" stroke-width="1.05"/>
<line x1="194.90" y1="724.00" x2="201.30" y2="724.00" stroke="#262626" stroke-width="1.05"/>
<line x1="223.10" y1="716.00" x2="223.10" y2="726.00" stroke="#262626" stroke-width="1.05"/>
<line x1="219.90" y1="716.00" x2="226.30" y2="716.00" stroke="#262626" stroke-width="1.05"/>
<line x1="219.90" y1="726.00" x2="226.30" y2="726.00" stroke="#262626" stroke-width="1.05"/>
<line x1="248.10" y1="716.00" x2="248.10" y2="726.00" stroke="#262626" stroke-width="1.05"/>
<line x1="244.90" y1="716.00" x2="251.30" y2="716.00" stroke="#262626" stroke-width="1.05"/>
<line x1="244.90" y1="726.00" x2="251.30" y2="726.00" stroke="#262626" stroke-width="1.05"/>
<line x1="273.10" y1="629.70" x2="273.10" y2="666.70" stroke="#262626" stroke-width="1.05"/>
<line x1="269.90" y1="629.70" x2="276.30" y2="629.70" stroke="#262626" stroke-width="1.05"/>
<line x1="269.90" y1="666.70" x2="276.30" y2="666.70" stroke="#262626" stroke-width="1.05"/>
<line x1="298.10" y1="578.00" x2="298.10" y2="610.00" stroke="#262626" stroke-width="1.05"/>
<line x1="294.90" y1="578.00" x2="301.30" y2="578.00" stroke="#262626" stroke-width="1.05"/>
<line x1="294.90" y1="610.00" x2="301.30" y2="610.00" stroke="#262626" stroke-width="1.05"/>
<line x1="323.10" y1="562.00" x2="323.10" y2="596.00" stroke="#262626" stroke-width="1.05"/>
<line x1="319.90" y1="562.00" x2="326.30" y2="562.00" stroke="#262626" stroke-width="1.05"/>
<line x1="319.90" y1="596.00" x2="326.30" y2="596.00" stroke="#262626" stroke-width="1.05"/>
<line x1="348.10" y1="562.00" x2="348.10" y2="601.90" stroke="#262626" stroke-width="1.05"/>
<line x1="344.90" y1="562.00" x2="351.30" y2="562.00" stroke="#262626" stroke-width="1.05"/>
<line x1="344.90" y1="601.90" x2="351.30" y2="601.90" stroke="#262626" stroke-width="1.05"/>
<line x1="373.10" y1="561.00" x2="373.10" y2="598.00" stroke="#262626" stroke-width="1.05"/>
<line x1="369.90" y1="561.00" x2="376.30" y2="561.00" stroke="#262626" stroke-width="1.05"/>
<line x1="369.90" y1="598.00" x2="376.30" y2="598.00" stroke="#262626" stroke-width="1.05"/>
<line x1="398.10" y1="566.00" x2="398.10" y2="604.00" stroke="#262626" stroke-width="1.05"/>
<line x1="394.90" y1="566.00" x2="401.30" y2="566.00" stroke="#262626" stroke-width="1.05"/>
<line x1="394.90" y1="604.00" x2="401.30" y2="604.00" stroke="#262626" stroke-width="1.05"/>
<line x1="73.10" y1="725.00" x2="73.10" y2="733.00" stroke="#262626" stroke-width="1.05"/>
<line x1="69.90" y1="725.00" x2="76.30" y2="725.00" stroke="#262626" stroke-width="1.05"/>
<line x1="69.90" y1="733.00" x2="76.30" y2="733.00" stroke="#262626" stroke-width="1.05"/>
<line x1="98.10" y1="724.00" x2="98.10" y2="732.00" stroke="#262626" stroke-width="1.05"/>
<line x1="94.90" y1="724.00" x2="101.30" y2="724.00" stroke="#262626" stroke-width="1.05"/>
<line x1="94.90" y1="732.00" x2="101.30" y2="732.00" stroke="#262626" stroke-width="1.05"/>
<line x1="123.10" y1="724.00" x2="123.10" y2="735.00" stroke="#262626" stroke-width="1.05"/>
<line x1="119.90" y1="724.00" x2="126.30" y2="724.00" stroke="#262626" stroke-width="1.05"/>
<line x1="119.90" y1="735.00" x2="126.30" y2="735.00" stroke="#262626" stroke-width="1.05"/>
<line x1="148.10" y1="726.00" x2="148.10" y2="736.00" stroke="#262626" stroke-width="1.05"/>
<line x1="144.90" y1="726.00" x2="151.30" y2="726.00" stroke="#262626" stroke-width="1.05"/>
<line x1="144.90" y1="736.00" x2="151.30" y2="736.00" stroke="#262626" stroke-width="1.05"/>
<line x1="173.10" y1="724.00" x2="173.10" y2="735.00" stroke="#262626" stroke-width="1.05"/>
<line x1="169.90" y1="724.00" x2="176.30" y2="724.00" stroke="#262626" stroke-width="1.05"/>
<line x1="169.90" y1="735.00" x2="176.30" y2="735.00" stroke="#262626" stroke-width="1.05"/>
<line x1="198.10" y1="723.00" x2="198.10" y2="734.00" stroke="#262626" stroke-width="1.05"/>
<line x1="194.90" y1="723.00" x2="201.30" y2="723.00" stroke="#262626" stroke-width="1.05"/>
<line x1="194.90" y1="734.00" x2="201.30" y2="734.00" stroke="#262626" stroke-width="1.05"/>
<line x1="223.10" y1="723.00" x2="223.10" y2="734.00" stroke="#262626" stroke-width="1.05"/>
<line x1="219.90" y1="723.00" x2="226.30" y2="723.00" stroke="#262626" stroke-width="1.05"/>
<line x1="219.90" y1="734.00" x2="226.30" y2="734.00" stroke="#262626" stroke-width="1.05"/>
<line x1="248.10" y1="723.00" x2="248.10" y2="735.00" stroke="#262626" stroke-width="1.05"/>
<line x1="244.90" y1="723.00" x2="251.30" y2="723.00" stroke="#262626" stroke-width="1.05"/>
<line x1="244.90" y1="735.00" x2="251.30" y2="735.00" stroke="#262626" stroke-width="1.05"/>
<line x1="273.10" y1="676.30" x2="273.10" y2="714.30" stroke="#262626" stroke-width="1.05"/>
<line x1="269.90" y1="676.30" x2="276.30" y2="676.30" stroke="#262626" stroke-width="1.05"/>
<line x1="269.90" y1="714.30" x2="276.30" y2="714.30" stroke="#262626" stroke-width="1.05"/>
<line x1="298.10" y1="621.30" x2="298.10" y2="660.40" stroke="#262626" stroke-width="1.05"/>
<line x1="294.90" y1="621.30" x2="301.30" y2="621.30" stroke="#262626" stroke-width="1.05"/>
<line x1="294.90" y1="660.40" x2="301.30" y2="660.40" stroke="#262626" stroke-width="1.05"/>
<line x1="323.10" y1="610.40" x2="323.10" y2="658.60" stroke="#262626" stroke-width="1.05"/>
<line x1="319.90" y1="610.40" x2="326.30" y2="610.40" stroke="#262626" stroke-width="1.05"/>
<line x1="319.90" y1="658.60" x2="326.30" y2="658.60" stroke="#262626" stroke-width="1.05"/>
<line x1="348.10" y1="580.00" x2="348.10" y2="641.70" stroke="#262626" stroke-width="1.05"/>
<line x1="344.90" y1="580.00" x2="351.30" y2="580.00" stroke="#262626" stroke-width="1.05"/>
<line x1="344.90" y1="641.70" x2="351.30" y2="641.70" stroke="#262626" stroke-width="1.05"/>
<line x1="373.10" y1="580.00" x2="373.10" y2="646.80" stroke="#262626" stroke-width="1.05"/>
<line x1="369.90" y1="580.00" x2="376.30" y2="580.00" stroke="#262626" stroke-width="1.05"/>
<line x1="369.90" y1="646.80" x2="376.30" y2="646.80" stroke="#262626" stroke-width="1.05"/>
<line x1="398.10" y1="586.00" x2="398.10" y2="652.30" stroke="#262626" stroke-width="1.05"/>
<line x1="394.90" y1="586.00" x2="401.30" y2="586.00" stroke="#262626" stroke-width="1.05"/>
<line x1="394.90" y1="652.30" x2="401.30" y2="652.30" stroke="#262626" stroke-width="1.05"/>
<line x1="73.10" y1="713.00" x2="73.10" y2="723.00" stroke="#262626" stroke-width="1.05"/>
<line x1="69.90" y1="713.00" x2="76.30" y2="713.00" stroke="#262626" stroke-width="1.05"/>
<line x1="69.90" y1="723.00" x2="76.30" y2="723.00" stroke="#262626" stroke-width="1.05"/>
<line x1="98.10" y1="704.00" x2="98.10" y2="716.00" stroke="#262626" stroke-width="1.05"/>
<line x1="94.90" y1="704.00" x2="101.30" y2="704.00" stroke="#262626" stroke-width="1.05"/>
<line x1="94.90" y1="716.00" x2="101.30" y2="716.00" stroke="#262626" stroke-width="1.05"/>
<line x1="123.10" y1="711.00" x2="123.10" y2="722.00" stroke="#262626" stroke-width="1.05"/>
<line x1="119.90" y1="711.00" x2="126.30" y2="711.00" stroke="#262626" stroke-width="1.05"/>
<line x1="119.90" y1="722.00" x2="126.30" y2="722.00" stroke="#262626" stroke-width="1.05"/>
<line x1="148.10" y1="712.00" x2="148.10" y2="724.00" stroke="#262626" stroke-width="1.05"/>
<line x1="144.90" y1="712.00" x2="151.30" y2="712.00" stroke="#262626" stroke-width="1.05"/>
<line x1="144.90" y1="724.00" x2="151.30" y2="724.00" stroke="#262626" stroke-width="1.05"/>
<line x1="173.10" y1="716.00" x2="173.10" y2="728.00" stroke="#262626" stroke-width="1.05"/>
<line x1="169.90" y1="716.00" x2="176.30" y2="716.00" stroke="#262626" stroke-width="1.05"/>
<line x1="169.90" y1="728.00" x2="176.30" y2="728.00" stroke="#262626" stroke-width="1.05"/>
<line x1="198.10" y1="715.00" x2="198.10" y2="727.00" stroke="#262626" stroke-width="1.05"/>
<line x1="194.90" y1="715.00" x2="201.30" y2="715.00" stroke="#262626" stroke-width="1.05"/>
<line x1="194.90" y1="727.00" x2="201.30" y2="727.00" stroke="#262626" stroke-width="1.05"/>
<line x1="223.10" y1="716.00" x2="223.10" y2="728.00" stroke="#262626" stroke-width="1.05"/>
<line x1="219.90" y1="716.00" x2="226.30" y2="716.00" stroke="#262626" stroke-width="1.05"/>
<line x1="219.90" y1="728.00" x2="226.30" y2="728.00" stroke="#262626" stroke-width="1.05"/>
<line x1="248.10" y1="718.00" x2="248.10" y2="730.00" stroke="#262626" stroke-width="1.05"/>
<line x1="244.90" y1="718.00" x2="251.30" y2="718.00" stroke="#262626" stroke-width="1.05"/>
<line x1="244.90" y1="730.00" x2="251.30" y2="730.00" stroke="#262626" stroke-width="1.05"/>
<line x1="273.10" y1="602.20" x2="273.10" y2="626.00" stroke="#262626" stroke-width="1.05"/>
<line x1="269.90" y1="602.20" x2="276.30" y2="602.20" stroke="#262626" stroke-width="1.05"/>
<line x1="269.90" y1="626.00" x2="276.30" y2="626.00" stroke="#262626" stroke-width="1.05"/>
<line x1="298.10" y1="565.00" x2="298.10" y2="581.00" stroke="#262626" stroke-width="1.05"/>
<line x1="294.90" y1="565.00" x2="301.30" y2="565.00" stroke="#262626" stroke-width="1.05"/>
<line x1="294.90" y1="581.00" x2="301.30" y2="581.00" stroke="#262626" stroke-width="1.05"/>
<line x1="323.10" y1="555.40" x2="323.10" y2="566.00" stroke="#262626" stroke-width="1.05"/>
<line x1="319.90" y1="555.40" x2="326.30" y2="555.40" stroke="#262626" stroke-width="1.05"/>
<line x1="319.90" y1="566.00" x2="326.30" y2="566.00" stroke="#262626" stroke-width="1.05"/>
<line x1="348.10" y1="558.00" x2="348.10" y2="570.00" stroke="#262626" stroke-width="1.05"/>
<line x1="344.90" y1="558.00" x2="351.30" y2="558.00" stroke="#262626" stroke-width="1.05"/>
<line x1="344.90" y1="570.00" x2="351.30" y2="570.00" stroke="#262626" stroke-width="1.05"/>
<line x1="373.10" y1="559.00" x2="373.10" y2="571.00" stroke="#262626" stroke-width="1.05"/>
<line x1="369.90" y1="559.00" x2="376.30" y2="559.00" stroke="#262626" stroke-width="1.05"/>
<line x1="369.90" y1="571.00" x2="376.30" y2="571.00" stroke="#262626" stroke-width="1.05"/>
<line x1="398.10" y1="556.00" x2="398.10" y2="567.00" stroke="#262626" stroke-width="1.05"/>
<line x1="394.90" y1="556.00" x2="401.30" y2="556.00" stroke="#262626" stroke-width="1.05"/>
<line x1="394.90" y1="567.00" x2="401.30" y2="567.00" stroke="#262626" stroke-width="1.05"/>
<line x1="73.10" y1="694.60" x2="73.10" y2="708.00" stroke="#262626" stroke-width="1.05"/>
<line x1="69.90" y1="694.60" x2="76.30" y2="694.60" stroke="#262626" stroke-width="1.05"/>
<line x1="69.90" y1="708.00" x2="76.30" y2="708.00" stroke="#262626" stroke-width="1.05"/>
<line x1="98.10" y1="654.50" x2="98.10" y2="682.50" stroke="#262626" stroke-width="1.05"/>
<line x1="94.90" y1="654.50" x2="101.30" y2="654.50" stroke="#262626" stroke-width="1.05"/>
<line x1="94.90" y1="682.50" x2="101.30" y2="682.50" stroke="#262626" stroke-width="1.05"/>
<line x1="123.10" y1="676.00" x2="123.10" y2="708.80" stroke="#262626" stroke-width="1.05"/>
<line x1="119.90" y1="676.00" x2="126.30" y2="676.00" stroke="#262626" stroke-width="1.05"/>
<line x1="119.90" y1="708.80" x2="126.30" y2="708.80" stroke="#262626" stroke-width="1.05"/>
<line x1="148.10" y1="690.00" x2="148.10" y2="713.80" stroke="#262626" stroke-width="1.05"/>
<line x1="144.90" y1="690.00" x2="151.30" y2="690.00" stroke="#262626" stroke-width="1.05"/>
<line x1="144.90" y1="713.80" x2="151.30" y2="713.80" stroke="#262626" stroke-width="1.05"/>
<line x1="173.10" y1="695.00" x2="173.10" y2="718.00" stroke="#262626" stroke-width="1.05"/>
<line x1="169.90" y1="695.00" x2="176.30" y2="695.00" stroke="#262626" stroke-width="1.05"/>
<line x1="169.90" y1="718.00" x2="176.30" y2="718.00" stroke="#262626" stroke-width="1.05"/>
<line x1="198.10" y1="694.00" x2="198.10" y2="718.00" stroke="#262626" stroke-width="1.05"/>
<line x1="194.90" y1="694.00" x2="201.30" y2="694.00" stroke="#262626" stroke-width="1.05"/>
<line x1="194.90" y1="718.00" x2="201.30" y2="718.00" stroke="#262626" stroke-width="1.05"/>
<line x1="223.10" y1="697.00" x2="223.10" y2="720.00" stroke="#262626" stroke-width="1.05"/>
<line x1="219.90" y1="697.00" x2="226.30" y2="697.00" stroke="#262626" stroke-width="1.05"/>
<line x1="219.90" y1="720.00" x2="226.30" y2="720.00" stroke="#262626" stroke-width="1.05"/>
<line x1="248.10" y1="700.00" x2="248.10" y2="722.00" stroke="#262626" stroke-width="1.05"/>
<line x1="244.90" y1="700.00" x2="251.30" y2="700.00" stroke="#262626" stroke-width="1.05"/>
<line x1="244.90" y1="722.00" x2="251.30" y2="722.00" stroke="#262626" stroke-width="1.05"/>
<line x1="273.10" y1="568.00" x2="273.10" y2="585.00" stroke="#262626" stroke-width="1.05"/>
<line x1="269.90" y1="568.00" x2="276.30" y2="568.00" stroke="#262626" stroke-width="1.05"/>
<line x1="269.90" y1="585.00" x2="276.30" y2="585.00" stroke="#262626" stroke-width="1.05"/>
<line x1="298.10" y1="548.00" x2="298.10" y2="561.00" stroke="#262626" stroke-width="1.05"/>
<line x1="294.90" y1="548.00" x2="301.30" y2="548.00" stroke="#262626" stroke-width="1.05"/>
<line x1="294.90" y1="561.00" x2="301.30" y2="561.00" stroke="#262626" stroke-width="1.05"/>
<line x1="323.10" y1="543.80" x2="323.10" y2="549.00" stroke="#262626" stroke-width="1.05"/>
<line x1="319.90" y1="543.80" x2="326.30" y2="543.80" stroke="#262626" stroke-width="1.05"/>
<line x1="319.90" y1="549.00" x2="326.30" y2="549.00" stroke="#262626" stroke-width="1.05"/>
<line x1="348.10" y1="543.80" x2="348.10" y2="558.00" stroke="#262626" stroke-width="1.05"/>
<line x1="344.90" y1="543.80" x2="351.30" y2="543.80" stroke="#262626" stroke-width="1.05"/>
<line x1="344.90" y1="558.00" x2="351.30" y2="558.00" stroke="#262626" stroke-width="1.05"/>
<line x1="373.10" y1="547.30" x2="373.10" y2="566.00" stroke="#262626" stroke-width="1.05"/>
<line x1="369.90" y1="547.30" x2="376.30" y2="547.30" stroke="#262626" stroke-width="1.05"/>
<line x1="369.90" y1="566.00" x2="376.30" y2="566.00" stroke="#262626" stroke-width="1.05"/>
<line x1="398.10" y1="545.20" x2="398.10" y2="563.00" stroke="#262626" stroke-width="1.05"/>
<line x1="394.90" y1="545.20" x2="401.30" y2="545.20" stroke="#262626" stroke-width="1.05"/>
<line x1="394.90" y1="563.00" x2="401.30" y2="563.00" stroke="#262626" stroke-width="1.05"/>
<polyline points="73.10,729.00 98.10,729.20 123.10,733.70 148.10,734.00 173.10,734.00 198.10,732.00 223.10,733.00 248.10,734.50 273.10,730.60 298.10,727.70 323.10,730.60" fill="none" stroke="#1a1a1a" stroke-width="1.2" stroke-linejoin="round"/>
<polyline points="73.10,707.00 98.10,711.00 123.10,716.00 148.10,722.50 173.10,723.00 198.10,720.00 223.10,722.00 248.10,724.00 273.10,720.70 298.10,720.00 323.10,712.90" fill="none" stroke="#1a1a1a" stroke-width="1.2" stroke-linejoin="round"/>
<polyline points="73.10,703.80 98.10,671.30 123.10,682.00 148.10,692.50 173.10,701.20 198.10,698.80 223.10,700.00 248.10,691.70 273.10,695.30 298.10,695.30" fill="none" stroke="#1a1a1a" stroke-width="1.2" stroke-linejoin="round"/>
<polyline points="73.10,716.00 98.10,709.00 123.10,717.00 148.10,720.00 173.10,723.00 198.10,719.00 223.10,721.30 248.10,721.30 273.10,647.70 298.10,593.80 323.10,578.70 348.10,581.80 373.10,580.30 398.10,586.10" fill="none" stroke="#1a1a1a" stroke-width="1.9" stroke-linejoin="round" stroke-dasharray="4.2 2.6"/>
<polyline points="73.10,728.80 98.10,728.00 123.10,730.00 148.10,731.50 173.10,729.50 198.10,728.50 223.10,728.50 248.10,729.00 273.10,684.70 298.10,641.30 323.10,634.10 348.10,610.80 373.10,612.90 398.10,619.30" fill="none" stroke="#1a1a1a" stroke-width="1.2" stroke-linejoin="round"/>
<polyline points="73.10,718.00 98.10,710.00 123.10,716.30 148.10,717.50 173.10,722.50 198.10,721.00 223.10,722.00 248.10,724.00 273.10,613.80 298.10,573.30 323.10,560.70 348.10,564.30 373.10,564.90 398.10,561.70" fill="none" stroke="#1a1a1a" stroke-width="1.2" stroke-linejoin="round"/>
<polyline points="73.10,701.30 98.10,668.00 123.10,692.50 148.10,703.00 173.10,707.00 198.10,706.30 223.10,708.80 248.10,711.20 273.10,576.70 298.10,554.20 323.10,545.90 348.10,551.20 373.10,557.10 398.10,554.30" fill="none" stroke="#1a1a1a" stroke-width="1.2" stroke-linejoin="round"/>
<rect x="70.00" y="725.90" width="6.20" height="6.20" fill="none" stroke="#111" stroke-width="1.1"/>
<rect x="95.00" y="726.10" width="6.20" height="6.20" fill="none" stroke="#111" stroke-width="1.1"/>
<rect x="120.00" y="730.60" width="6.20" height="6.20" fill="none" stroke="#111" stroke-width="1.1"/>
<rect x="145.00" y="730.90" width="6.20" height="6.20" fill="none" stroke="#111" stroke-width="1.1"/>
<rect x="170.00" y="730.90" width="6.20" height="6.20" fill="none" stroke="#111" stroke-width="1.1"/>
<rect x="195.00" y="728.90" width="6.20" height="6.20" fill="none" stroke="#111" stroke-width="1.1"/>
<rect x="220.00" y="729.90" width="6.20" height="6.20" fill="none" stroke="#111" stroke-width="1.1"/>
<rect x="245.00" y="731.40" width="6.20" height="6.20" fill="none" stroke="#111" stroke-width="1.1"/>
<rect x="270.00" y="727.50" width="6.20" height="6.20" fill="none" stroke="#111" stroke-width="1.1"/>
<rect x="295.00" y="724.60" width="6.20" height="6.20" fill="none" stroke="#111" stroke-width="1.1"/>
<rect x="320.00" y="727.50" width="6.20" height="6.20" fill="none" stroke="#111" stroke-width="1.1"/>
<circle cx="73.10" cy="707.00" r="3.30" fill="none" stroke="#111" stroke-width="1.1"/>
<circle cx="98.10" cy="711.00" r="3.30" fill="none" stroke="#111" stroke-width="1.1"/>
<circle cx="123.10" cy="716.00" r="3.30" fill="none" stroke="#111" stroke-width="1.1"/>
<circle cx="148.10" cy="722.50" r="3.30" fill="none" stroke="#111" stroke-width="1.1"/>
<circle cx="173.10" cy="723.00" r="3.30" fill="none" stroke="#111" stroke-width="1.1"/>
<circle cx="198.10" cy="720.00" r="3.30" fill="none" stroke="#111" stroke-width="1.1"/>
<circle cx="223.10" cy="722.00" r="3.30" fill="none" stroke="#111" stroke-width="1.1"/>
<circle cx="248.10" cy="724.00" r="3.30" fill="none" stroke="#111" stroke-width="1.1"/>
<circle cx="273.10" cy="720.70" r="3.30" fill="none" stroke="#111" stroke-width="1.1"/>
<circle cx="298.10" cy="720.00" r="3.30" fill="none" stroke="#111" stroke-width="1.1"/>
<circle cx="323.10" cy="712.90" r="3.30" fill="none" stroke="#111" stroke-width="1.1"/>
<polygon points="73.10,700.20 76.40,706.80 69.80,706.80" fill="none" stroke="#111" stroke-width="1.1" stroke-linejoin="miter"/>
<polygon points="98.10,667.70 101.40,674.30 94.80,674.30" fill="none" stroke="#111" stroke-width="1.1" stroke-linejoin="miter"/>
<polygon points="123.10,678.40 126.40,685.00 119.80,685.00" fill="none" stroke="#111" stroke-width="1.1" stroke-linejoin="miter"/>
<polygon points="148.10,688.90 151.40,695.50 144.80,695.50" fill="none" stroke="#111" stroke-width="1.1" stroke-linejoin="miter"/>
<polygon points="173.10,697.60 176.40,704.20 169.80,704.20" fill="none" stroke="#111" stroke-width="1.1" stroke-linejoin="miter"/>
<polygon points="198.10,695.20 201.40,701.80 194.80,701.80" fill="none" stroke="#111" stroke-width="1.1" stroke-linejoin="miter"/>
<polygon points="223.10,696.40 226.40,703.00 219.80,703.00" fill="none" stroke="#111" stroke-width="1.1" stroke-linejoin="miter"/>
<polygon points="248.10,688.10 251.40,694.70 244.80,694.70" fill="none" stroke="#111" stroke-width="1.1" stroke-linejoin="miter"/>
<polygon points="273.10,691.70 276.40,698.30 269.80,698.30" fill="none" stroke="#111" stroke-width="1.1" stroke-linejoin="miter"/>
<polygon points="298.10,691.70 301.40,698.30 294.80,698.30" fill="none" stroke="#111" stroke-width="1.1" stroke-linejoin="miter"/>
<circle cx="73.10" cy="716.00" r="3.30" fill="none" stroke="#111" stroke-width="1.1"/>
<circle cx="98.10" cy="709.00" r="3.30" fill="none" stroke="#111" stroke-width="1.1"/>
<circle cx="123.10" cy="717.00" r="3.30" fill="none" stroke="#111" stroke-width="1.1"/>
<circle cx="148.10" cy="720.00" r="3.30" fill="none" stroke="#111" stroke-width="1.1"/>
<circle cx="173.10" cy="723.00" r="3.30" fill="none" stroke="#111" stroke-width="1.1"/>
<circle cx="198.10" cy="719.00" r="3.30" fill="none" stroke="#111" stroke-width="1.1"/>
<circle cx="223.10" cy="721.30" r="3.30" fill="none" stroke="#111" stroke-width="1.1"/>
<circle cx="248.10" cy="721.30" r="3.30" fill="none" stroke="#111" stroke-width="1.1"/>
<circle cx="273.10" cy="647.70" r="3.30" fill="none" stroke="#111" stroke-width="1.1"/>
<circle cx="298.10" cy="593.80" r="3.30" fill="none" stroke="#111" stroke-width="1.1"/>
<circle cx="323.10" cy="578.70" r="3.30" fill="none" stroke="#111" stroke-width="1.1"/>
<circle cx="348.10" cy="581.80" r="3.30" fill="none" stroke="#111" stroke-width="1.1"/>
<circle cx="373.10" cy="580.30" r="3.30" fill="none" stroke="#111" stroke-width="1.1"/>
<circle cx="398.10" cy="586.10" r="3.30" fill="none" stroke="#111" stroke-width="1.1"/>
<rect x="70.20" y="725.90" width="5.80" height="5.80" fill="#111" stroke="#111" stroke-width="0.5"/>
<rect x="95.20" y="725.10" width="5.80" height="5.80" fill="#111" stroke="#111" stroke-width="0.5"/>
<rect x="120.20" y="727.10" width="5.80" height="5.80" fill="#111" stroke="#111" stroke-width="0.5"/>
<rect x="145.20" y="728.60" width="5.80" height="5.80" fill="#111" stroke="#111" stroke-width="0.5"/>
<rect x="170.20" y="726.60" width="5.80" height="5.80" fill="#111" stroke="#111" stroke-width="0.5"/>
<rect x="195.20" y="725.60" width="5.80" height="5.80" fill="#111" stroke="#111" stroke-width="0.5"/>
<rect x="220.20" y="725.60" width="5.80" height="5.80" fill="#111" stroke="#111" stroke-width="0.5"/>
<rect x="245.20" y="726.10" width="5.80" height="5.80" fill="#111" stroke="#111" stroke-width="0.5"/>
<rect x="270.20" y="681.80" width="5.80" height="5.80" fill="#111" stroke="#111" stroke-width="0.5"/>
<rect x="295.20" y="638.40" width="5.80" height="5.80" fill="#111" stroke="#111" stroke-width="0.5"/>
<rect x="320.20" y="631.20" width="5.80" height="5.80" fill="#111" stroke="#111" stroke-width="0.5"/>
<rect x="345.20" y="607.90" width="5.80" height="5.80" fill="#111" stroke="#111" stroke-width="0.5"/>
<rect x="370.20" y="610.00" width="5.80" height="5.80" fill="#111" stroke="#111" stroke-width="0.5"/>
<rect x="395.20" y="616.40" width="5.80" height="5.80" fill="#111" stroke="#111" stroke-width="0.5"/>
<circle cx="73.10" cy="718.00" r="3.00" fill="#111" stroke="#111" stroke-width="0.5"/>
<circle cx="98.10" cy="710.00" r="3.00" fill="#111" stroke="#111" stroke-width="0.5"/>
<circle cx="123.10" cy="716.30" r="3.00" fill="#111" stroke="#111" stroke-width="0.5"/>
<circle cx="148.10" cy="717.50" r="3.00" fill="#111" stroke="#111" stroke-width="0.5"/>
<circle cx="173.10" cy="722.50" r="3.00" fill="#111" stroke="#111" stroke-width="0.5"/>
<circle cx="198.10" cy="721.00" r="3.00" fill="#111" stroke="#111" stroke-width="0.5"/>
<circle cx="223.10" cy="722.00" r="3.00" fill="#111" stroke="#111" stroke-width="0.5"/>
<circle cx="248.10" cy="724.00" r="3.00" fill="#111" stroke="#111" stroke-width="0.5"/>
<circle cx="273.10" cy="613.80" r="3.00" fill="#111" stroke="#111" stroke-width="0.5"/>
<circle cx="298.10" cy="573.30" r="3.00" fill="#111" stroke="#111" stroke-width="0.5"/>
<circle cx="323.10" cy="560.70" r="3.00" fill="#111" stroke="#111" stroke-width="0.5"/>
<circle cx="348.10" cy="564.30" r="3.00" fill="#111" stroke="#111" stroke-width="0.5"/>
<circle cx="373.10" cy="564.90" r="3.00" fill="#111" stroke="#111" stroke-width="0.5"/>
<circle cx="398.10" cy="561.70" r="3.00" fill="#111" stroke="#111" stroke-width="0.5"/>
<polygon points="73.10,698.00 76.10,704.00 70.10,704.00" fill="#111" stroke="#111" stroke-width="0.5" stroke-linejoin="miter"/>
<polygon points="98.10,664.70 101.10,670.70 95.10,670.70" fill="#111" stroke="#111" stroke-width="0.5" stroke-linejoin="miter"/>
<polygon points="123.10,689.20 126.10,695.20 120.10,695.20" fill="#111" stroke="#111" stroke-width="0.5" stroke-linejoin="miter"/>
<polygon points="148.10,699.70 151.10,705.70 145.10,705.70" fill="#111" stroke="#111" stroke-width="0.5" stroke-linejoin="miter"/>
<polygon points="173.10,703.70 176.10,709.70 170.10,709.70" fill="#111" stroke="#111" stroke-width="0.5" stroke-linejoin="miter"/>
<polygon points="198.10,703.00 201.10,709.00 195.10,709.00" fill="#111" stroke="#111" stroke-width="0.5" stroke-linejoin="miter"/>
<polygon points="223.10,705.50 226.10,711.50 220.10,711.50" fill="#111" stroke="#111" stroke-width="0.5" stroke-linejoin="miter"/>
<polygon points="248.10,707.90 251.10,713.90 245.10,713.90" fill="#111" stroke="#111" stroke-width="0.5" stroke-linejoin="miter"/>
<polygon points="273.10,573.40 276.10,579.40 270.10,579.40" fill="#111" stroke="#111" stroke-width="0.5" stroke-linejoin="miter"/>
<polygon points="298.10,550.90 301.10,556.90 295.10,556.90" fill="#111" stroke="#111" stroke-width="0.5" stroke-linejoin="miter"/>
<polygon points="323.10,542.60 326.10,548.60 320.10,548.60" fill="#111" stroke="#111" stroke-width="0.5" stroke-linejoin="miter"/>
<polygon points="348.10,547.90 351.10,553.90 345.10,553.90" fill="#111" stroke="#111" stroke-width="0.5" stroke-linejoin="miter"/>
<polygon points="373.10,553.80 376.10,559.80 370.10,559.80" fill="#111" stroke="#111" stroke-width="0.5" stroke-linejoin="miter"/>
<polygon points="398.10,551.00 401.10,557.00 395.10,557.00" fill="#111" stroke="#111" stroke-width="0.5" stroke-linejoin="miter"/>
<text x="277.50" y="626.20" font-size="9.0" text-anchor="middle" >&amp;</text>
<text x="305.80" y="584.40" font-size="9.0" text-anchor="middle" >&amp;</text>
<text x="335.00" y="575.50" font-size="9.0" text-anchor="middle" >&amp;</text>
<text x="358.70" y="577.20" font-size="9.0" text-anchor="middle" >&amp;</text>
<text x="384.50" y="577.50" font-size="9.0" text-anchor="middle" >&amp;</text>
<text x="406.30" y="580.80" font-size="9.0" text-anchor="middle" >&amp;</text>
<line x1="75.80" y1="543.00" x2="104.60" y2="543.00" stroke="#1a1a1a" stroke-width="1.5"/>
<rect x="86.90" y="540.10" width="5.80" height="5.80" fill="#111" stroke="#111" stroke-width="0.5"/>
<text x="107.60" y="546.80" font-size="10.3" textLength="82.10" lengthAdjust="spacingAndGlyphs" >WT 138cGy (n=6)</text>
<line x1="75.80" y1="556.50" x2="104.60" y2="556.50" stroke="#1a1a1a" stroke-width="1.5"/>
<polygon points="89.80,553.20 92.80,559.20 86.80,559.20" fill="#111" stroke="#111" stroke-width="0.5" stroke-linejoin="miter"/>
<text x="107.60" y="560.30" font-size="10.3" textLength="86.40" lengthAdjust="spacingAndGlyphs" >Thal 138cGy (n=5)</text>
<line x1="75.80" y1="570.20" x2="104.60" y2="570.20" stroke="#1a1a1a" stroke-width="1.5"/>
<circle cx="89.80" cy="570.20" r="3.00" fill="#111" stroke="#111" stroke-width="0.5"/>
<text x="107.60" y="574.00" font-size="10.3" textLength="85.00" lengthAdjust="spacingAndGlyphs" >SCD 138cGy (n=6)</text>
<line x1="75.80" y1="583.50" x2="104.60" y2="583.50" stroke="#1a1a1a" stroke-width="1.9" stroke-dasharray="4.2 2.6"/>
<circle cx="89.80" cy="583.50" r="3.30" fill="none" stroke="#111" stroke-width="1.1"/>
<text x="107.60" y="587.30" font-size="10.3" textLength="79.20" lengthAdjust="spacingAndGlyphs" >SCD 82cGy (n=6)</text>
<line x1="75.80" y1="596.40" x2="104.60" y2="596.40" stroke="#1a1a1a" stroke-width="1.5"/>
<rect x="86.70" y="593.30" width="6.20" height="6.20" fill="none" stroke="#111" stroke-width="1.1"/>
<text x="107.60" y="600.20" font-size="10.3" textLength="94.50" lengthAdjust="spacingAndGlyphs" >WT no boost (n=10)</text>
<line x1="75.80" y1="609.40" x2="104.60" y2="609.40" stroke="#1a1a1a" stroke-width="1.5"/>
<polygon points="89.80,605.80 93.10,612.40 86.50,612.40" fill="none" stroke="#111" stroke-width="1.1" stroke-linejoin="miter"/>
<text x="107.60" y="613.20" font-size="10.3" textLength="92.20" lengthAdjust="spacingAndGlyphs" >Thal no boost (n=7)</text>
<line x1="75.80" y1="622.60" x2="104.60" y2="622.60" stroke="#1a1a1a" stroke-width="1.5"/>
<circle cx="89.80" cy="622.60" r="3.30" fill="none" stroke="#111" stroke-width="1.1"/>
<text x="107.60" y="626.40" font-size="10.3" textLength="97.40" lengthAdjust="spacingAndGlyphs" >SCD no boost (n=15)</text></svg></body></html>
